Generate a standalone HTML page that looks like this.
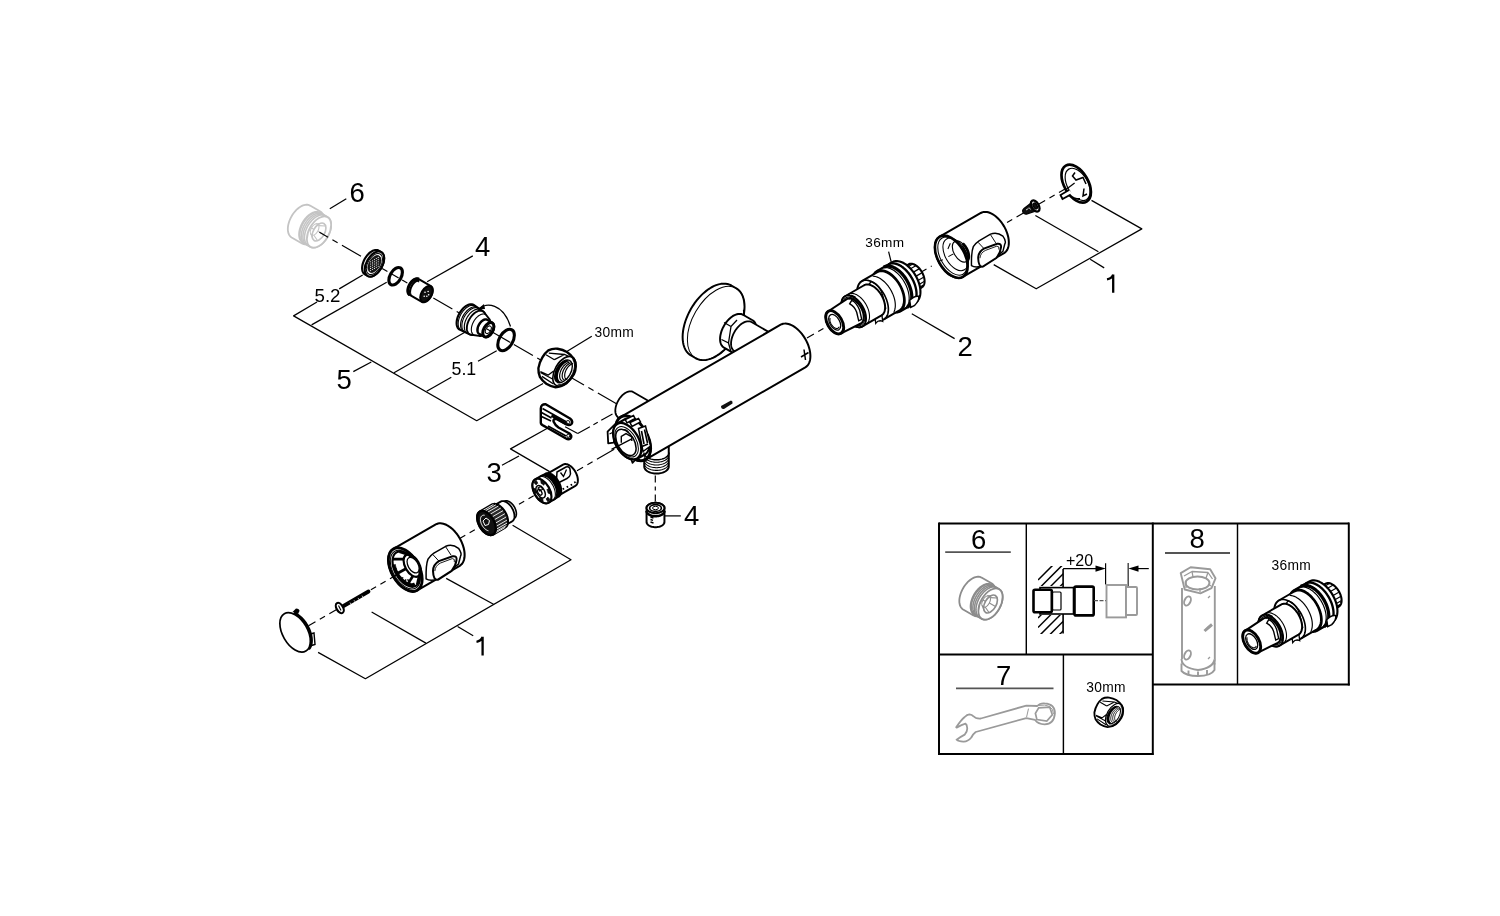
<!DOCTYPE html>
<html><head><meta charset="utf-8"><style>
html,body{margin:0;padding:0;background:#fff;}
body{width:1500px;height:916px;overflow:hidden;}
svg{display:block;will-change:transform;font-family:"Liberation Sans", sans-serif;}
</style></head><body>
<svg width="1500" height="916" viewBox="0 0 1500 916">
<rect width="1500" height="916" fill="#fff"/>
<text x="349.5" y="202.2" font-size="27.5" text-anchor="start" fill="#000" >6</text>
<text x="475" y="255.8" font-size="27.5" text-anchor="start" fill="#000" >4</text>
<text x="314.5" y="301.7" font-size="18.7" text-anchor="start" fill="#000" >5.2</text>
<text x="336.5" y="388.7" font-size="27.5" text-anchor="start" fill="#000" >5</text>
<text x="451.5" y="375.3" font-size="17.8" text-anchor="start" fill="#000" >5.1</text>
<text x="594.5" y="337" font-size="13.8" text-anchor="start" fill="#000" letter-spacing="0.3">30mm</text>
<text x="486.5" y="482.3" font-size="27.5" text-anchor="start" fill="#000" >3</text>
<text x="684" y="524.6" font-size="27.5" text-anchor="start" fill="#000" >4</text>
<path d="M482.6 636.8 V655.5 M476.5 641.8 Q481 641 482.6 637" fill="none" stroke="#000" stroke-width="2.3"/>
<text x="865.3" y="247" font-size="13.6" text-anchor="start" fill="#000" letter-spacing="0.3">36mm</text>
<text x="957.5" y="355.8" font-size="27.5" text-anchor="start" fill="#000" >2</text>
<path d="M1113.2 274.4 V292.7 M1107 279.4 Q1111.6 278.6 1113.2 274.6" fill="none" stroke="#000" stroke-width="2.3"/>
<line x1="329.8" y1="208.7" x2="346.3" y2="198.8" stroke="#000" stroke-width="1.24" />
<line x1="427.1" y1="281.8" x2="472.8" y2="255.9" stroke="#000" stroke-width="1.24" />
<line x1="362.7" y1="275" x2="339.2" y2="288.9" stroke="#000" stroke-width="1.24" />
<path d="M317 302 L293.6 315.9 L476.7 420.7 L543.1 383.5" fill="none" stroke="#000" stroke-width="1.24" stroke-linejoin="round" />
<line x1="386.7" y1="282.3" x2="311.6" y2="324.9" stroke="#000" stroke-width="1.24" />
<line x1="465.3" y1="332" x2="394" y2="372.7" stroke="#000" stroke-width="1.24" />
<line x1="371.3" y1="362" x2="353.3" y2="371.6" stroke="#000" stroke-width="1.24" />
<line x1="496.7" y1="350.7" x2="478" y2="361.3" stroke="#000" stroke-width="1.24" />
<line x1="451.3" y1="377.3" x2="426.7" y2="391.3" stroke="#000" stroke-width="1.24" />
<line x1="567.2" y1="351.2" x2="591.8" y2="336.3" stroke="#000" stroke-width="1.24" />
<line x1="502" y1="465.2" x2="519" y2="456" stroke="#000" stroke-width="1.24" />
<path d="M547.4 428.3 L510.5 448.9 L549.6 471.6" fill="none" stroke="#000" stroke-width="1.24" stroke-linejoin="round" />
<line x1="665" y1="515.9" x2="680.8" y2="515.9" stroke="#000" stroke-width="1.24" />
<line x1="888.6" y1="251.6" x2="892.2" y2="266" stroke="#000" stroke-width="1.24" />
<line x1="911.8" y1="313.8" x2="954.6" y2="338.6" stroke="#000" stroke-width="1.24" />
<path d="M1091.5 200.4 L1141.8 228.9 L1036.2 288.8 L993.7 264.6" fill="none" stroke="#000" stroke-width="1.24" stroke-linejoin="round" />
<line x1="1035.4" y1="215.5" x2="1098.4" y2="251.8" stroke="#000" stroke-width="1.24" />
<line x1="1090.2" y1="259.3" x2="1104.2" y2="267.9" stroke="#000" stroke-width="1.24" />
<path d="M512.6 525.3 L571 559.7 L365.4 678.7 L318.1 652.4" fill="none" stroke="#000" stroke-width="1.24" stroke-linejoin="round" />
<line x1="446.2" y1="578.4" x2="493.5" y2="604.3" stroke="#000" stroke-width="1.24" />
<line x1="371.6" y1="612" x2="425.9" y2="643.1" stroke="#000" stroke-width="1.24" />
<line x1="457.6" y1="626.5" x2="473.2" y2="635.8" stroke="#000" stroke-width="1.24" />
<line x1="939" y1="523.5" x2="1349" y2="523.5" stroke="#000" stroke-width="1.98" />
<line x1="939" y1="522.5" x2="939" y2="755" stroke="#000" stroke-width="1.98" />
<line x1="938" y1="754" x2="1153.5" y2="754" stroke="#000" stroke-width="1.98" />
<line x1="1348.8" y1="522.5" x2="1348.8" y2="685.5" stroke="#000" stroke-width="1.98" />
<line x1="1152.8" y1="684.4" x2="1349.8" y2="684.4" stroke="#000" stroke-width="1.98" />
<line x1="1152.8" y1="522.5" x2="1152.8" y2="755" stroke="#000" stroke-width="1.98" />
<line x1="939" y1="654.5" x2="1152.8" y2="654.5" stroke="#000" stroke-width="1.98" />
<line x1="1026.3" y1="523.5" x2="1026.3" y2="654.5" stroke="#000" stroke-width="1.44" />
<line x1="1237.5" y1="523.5" x2="1237.5" y2="684.4" stroke="#000" stroke-width="1.44" />
<line x1="1063.4" y1="654.5" x2="1063.4" y2="754" stroke="#000" stroke-width="1.44" />
<text x="971" y="549.2" font-size="27.5" text-anchor="start" fill="#000" >6</text>
<line x1="945.2" y1="552.2" x2="1010.8" y2="552.2" stroke="#555" stroke-width="1.8" />
<text x="1189.5" y="548.4" font-size="27.5" text-anchor="start" fill="#000" >8</text>
<line x1="1165" y1="553" x2="1230" y2="553" stroke="#555" stroke-width="1.8" />
<text x="996" y="684.8" font-size="27.5" text-anchor="start" fill="#000" >7</text>
<line x1="956" y1="688.3" x2="1053.5" y2="688.3" stroke="#555" stroke-width="1.8" />
<text x="1271.5" y="570" font-size="13.8" text-anchor="start" fill="#000" letter-spacing="0.3">36mm</text>
<text x="1086.3" y="692" font-size="13.8" text-anchor="start" fill="#000" letter-spacing="0.3">30mm</text>
<text x="1066" y="566.2" font-size="16" text-anchor="start" fill="#000" >+20</text>
<path d="M682.62 337 L682.73 334.06 L683.06 331.02 L683.59 327.9 L684.34 324.72 L685.3 321.51 L686.45 318.29 L687.79 315.09 L689.31 311.93 L690.99 308.83 L692.83 305.83 L694.81 302.93 L696.91 300.17 L699.12 297.57 L701.43 295.13 L703.8 292.89 L706.24 290.87 L708.71 289.06 L711.2 287.5 L713.69 286.19 L716.16 285.14 L718.6 284.35 L720.97 283.85 L723.28 283.62 L725.49 283.67 L727.59 284 L729.57 284.61 L731.41 285.5 L736.17 288.25 L737.86 289.4 L739.37 290.81 L740.71 292.46 L741.86 294.35 L742.82 296.46 L743.57 298.77 L744.11 301.27 L744.43 303.94 L744.54 306.75 L744.43 309.69 L744.11 312.73 L743.57 315.85 L742.82 319.03 L741.86 322.24 L740.71 325.46 L739.37 328.66 L737.86 331.82 L736.17 334.92 L734.33 337.92 L732.36 340.82 L730.25 343.58 L728.04 346.18 L725.74 348.62 L723.36 350.86 L720.93 352.88 L718.45 354.69 L715.96 356.25 L713.47 357.56 L711 358.61 L708.57 359.4 L706.19 359.9 L703.89 360.13 L701.67 360.08 L699.57 359.75 L697.59 359.14 L695.75 358.25 L690.99 355.5 L689.31 354.35 L687.79 352.94 L686.45 351.29 L685.3 349.4 L684.34 347.29 L683.59 344.98 L683.06 342.48 L682.73 339.81 Z" fill="#fff" stroke="#000" stroke-width="1.98" stroke-linejoin="round" />
<ellipse cx="715.96" cy="323.25" rx="40.42" ry="23.33" transform="rotate(-60 715.96 323.25)" fill="none" stroke="#000" stroke-width="0.99" />
<line x1="743.8" y1="310" x2="744.3" y2="316" stroke="#000" stroke-width="1.8" />
<path d="M720.08 338.95 L720.13 337.57 L720.28 336.14 L720.53 334.67 L720.89 333.18 L721.33 331.67 L721.88 330.16 L722.5 328.66 L723.22 327.17 L724.01 325.72 L724.87 324.31 L725.8 322.95 L726.79 321.65 L727.83 320.43 L728.91 319.29 L730.03 318.23 L731.17 317.28 L732.33 316.43 L733.5 315.7 L734.67 315.08 L735.83 314.59 L736.97 314.22 L738.09 313.98 L739.17 313.88 L740.21 313.9 L741.2 314.06 L742.13 314.34 L742.99 314.76 L752.52 320.26 L753.31 320.8 L754.02 321.46 L754.65 322.24 L755.19 323.13 L755.64 324.12 L755.99 325.2 L756.25 326.38 L756.4 327.63 L756.45 328.95 L756.4 330.33 L756.25 331.76 L755.99 333.23 L755.64 334.72 L755.19 336.23 L754.65 337.74 L754.02 339.24 L753.31 340.73 L752.52 342.18 L751.65 343.59 L750.73 344.95 L749.74 346.25 L748.7 347.47 L747.62 348.61 L746.5 349.67 L745.36 350.62 L744.2 351.47 L743.03 352.2 L741.86 352.82 L740.7 353.31 L739.55 353.68 L738.44 353.92 L737.35 354.02 L736.31 354 L735.33 353.84 L734.4 353.56 L733.53 353.14 L724.01 347.64 L723.22 347.1 L722.5 346.44 L721.88 345.66 L721.33 344.77 L720.89 343.78 L720.53 342.7 L720.28 341.52 L720.13 340.27 Z" fill="#fff" stroke="#000" stroke-width="1.98" stroke-linejoin="round" />
<path d="M724 322.5 L731 326.5 L737 320 M721.5 339.5 L728.5 343 L731 352 M728.5 343 L731 326.5" fill="none" stroke="#000" stroke-width="1.3"/>
<path d="M731.05 343.6 L731.09 342.37 L731.23 341.1 L731.46 339.79 L731.77 338.46 L732.17 337.12 L732.65 335.78 L733.21 334.44 L733.84 333.12 L734.55 331.82 L735.32 330.56 L736.15 329.35 L737.02 328.2 L737.95 327.11 L738.91 326.09 L739.91 325.16 L740.92 324.31 L741.96 323.55 L743 322.9 L744.04 322.35 L745.08 321.91 L746.09 321.58 L747.09 321.37 L748.05 321.28 L748.98 321.3 L749.85 321.44 L750.68 321.69 L751.45 322.06 L780.9 339.06 L781.6 339.54 L782.23 340.13 L782.79 340.82 L783.28 341.61 L783.68 342.5 L783.99 343.46 L784.21 344.51 L784.35 345.62 L784.4 346.8 L784.35 348.03 L784.21 349.3 L783.99 350.61 L783.68 351.94 L783.28 353.28 L782.79 354.62 L782.23 355.96 L781.6 357.28 L780.9 358.58 L780.13 359.84 L779.3 361.05 L778.42 362.2 L777.5 363.29 L776.53 364.31 L775.54 365.24 L774.52 366.09 L773.49 366.85 L772.44 367.5 L771.4 368.05 L770.37 368.49 L769.35 368.82 L768.36 369.03 L767.39 369.12 L766.47 369.1 L765.59 368.96 L764.76 368.71 L763.99 368.34 L734.55 351.34 L733.84 350.86 L733.21 350.27 L732.65 349.58 L732.17 348.79 L731.77 347.9 L731.46 346.94 L731.23 345.89 L731.09 344.78 Z" fill="#fff" stroke="#000" stroke-width="1.8" stroke-linejoin="round" />
<path d="M615.31 410.7 L615.35 409.63 L615.47 408.53 L615.66 407.39 L615.93 406.23 L616.28 405.07 L616.7 403.9 L617.19 402.73 L617.74 401.58 L618.35 400.46 L619.02 399.36 L619.74 398.31 L620.5 397.31 L621.31 396.36 L622.15 395.48 L623.01 394.66 L623.9 393.92 L624.79 393.27 L625.7 392.7 L626.61 392.22 L627.5 391.84 L628.39 391.56 L629.25 391.37 L630.09 391.29 L630.9 391.31 L631.66 391.43 L632.38 391.65 L633.05 391.97 L646.9 399.97 L647.52 400.39 L648.07 400.9 L648.56 401.5 L648.98 402.19 L649.32 402.96 L649.59 403.8 L649.79 404.71 L649.91 405.68 L649.95 406.7 L649.91 407.77 L649.79 408.87 L649.59 410.01 L649.32 411.17 L648.98 412.33 L648.56 413.5 L648.07 414.67 L647.52 415.82 L646.9 416.94 L646.24 418.04 L645.52 419.09 L644.75 420.09 L643.95 421.04 L643.11 421.92 L642.25 422.74 L641.36 423.48 L640.46 424.13 L639.56 424.7 L638.65 425.18 L637.75 425.56 L636.87 425.84 L636 426.03 L635.16 426.11 L634.36 426.09 L633.6 425.97 L632.88 425.75 L632.21 425.43 L618.35 417.43 L617.74 417.01 L617.19 416.5 L616.7 415.9 L616.28 415.21 L615.93 414.44 L615.66 413.6 L615.47 412.69 L615.35 411.72 Z" fill="#fff" stroke="#000" stroke-width="1.8" stroke-linejoin="round" />
<path d="M644.25 438.5 L644.3 437.88 L644.44 437.27 L644.67 436.67 L644.99 436.08 L645.4 435.51 L645.89 434.96 L646.47 434.44 L647.12 433.95 L647.84 433.5 L648.63 433.08 L649.48 432.71 L650.38 432.38 L651.32 432.09 L652.31 431.86 L653.33 431.67 L654.37 431.54 L655.43 431.46 L656.5 431.43 L657.57 431.46 L658.63 431.54 L659.67 431.67 L660.69 431.86 L661.68 432.09 L662.62 432.38 L663.52 432.71 L664.37 433.08 L665.16 433.5 L665.88 433.95 L666.53 434.44 L667.11 434.96 L667.6 435.51 L668.01 436.08 L668.33 436.67 L668.56 437.27 L668.7 437.88 L668.75 438.5 L668.75 466.5 L668.7 467.12 L668.56 467.73 L668.33 468.33 L668.01 468.92 L667.6 469.49 L667.11 470.04 L666.53 470.56 L665.88 471.05 L665.16 471.5 L664.37 471.92 L663.52 472.29 L662.62 472.62 L661.68 472.91 L660.69 473.14 L659.67 473.33 L658.63 473.46 L657.57 473.54 L656.5 473.57 L655.43 473.54 L654.37 473.46 L653.33 473.33 L652.31 473.14 L651.32 472.91 L650.38 472.62 L649.48 472.29 L648.63 471.92 L647.84 471.5 L647.12 471.05 L646.47 470.56 L645.89 470.04 L645.4 469.49 L644.99 468.92 L644.67 468.33 L644.44 467.73 L644.3 467.12 L644.25 466.5 Z" fill="#fff" stroke="#000" stroke-width="1.98" stroke-linejoin="round" />
<path d="M615.79 428.25 L615.86 426.54 L616.06 424.91 L616.39 423.39 L616.84 421.98 L617.42 420.7 L618.12 419.55 L618.94 418.54 L619.87 417.68 L620.89 416.98 L780.67 324.73 L781.79 324.19 L783 323.82 L784.28 323.62 L785.63 323.59 L787.03 323.72 L788.48 324.03 L789.96 324.51 L791.46 325.15 L792.98 325.95 L794.5 326.9 L796 328 L797.49 329.24 L798.94 330.6 L800.34 332.08 L801.69 333.67 L802.97 335.35 L804.17 337.11 L805.29 338.94 L806.32 340.83 L807.24 342.75 L808.06 344.7 L808.76 346.66 L809.34 348.62 L809.8 350.56 L810.12 352.46 L810.32 354.31 L810.39 356.1 L810.32 357.81 L810.12 359.44 L809.8 360.96 L809.34 362.37 L808.76 363.65 L808.06 364.8 L807.24 365.81 L806.32 366.67 L805.29 367.37 L645.51 459.62 L644.39 460.16 L643.18 460.53 L641.9 460.73 L640.56 460.76 L639.15 460.63 L637.71 460.32 L636.22 459.84 L634.72 459.2 L633.2 458.4 L631.68 457.45 L630.18 456.35 L628.69 455.11 L627.25 453.75 L625.84 452.27 L624.5 450.68 L623.22 449 L622.01 447.24 L620.89 445.41 L619.87 443.52 L618.94 441.6 L618.12 439.65 L617.42 437.69 L616.84 435.73 L616.39 433.79 L616.06 431.89 L615.86 430.04 Z" fill="#fff" stroke="#000" stroke-width="1.98" stroke-linejoin="round" />
<ellipse cx="633.2" cy="438.3" rx="24.62" ry="14.21" transform="rotate(60 633.2 438.3)" fill="#fff" stroke="#000" stroke-width="1.98" />
<path d="M721 406 L731 400.5 Q733 401 732.5 403.5 L724 409 Q721 409.5 721 406 Z" fill="#111"/>
<path d="M804 349.5 L805.5 360 M801 357 L808.5 352.5" fill="none" stroke="#000" stroke-width="1.5"/>
<ellipse cx="633.2" cy="438.3" rx="24.62" ry="14.21" transform="rotate(60 633.2 438.3)" fill="#fff" stroke="#000" stroke-width="2.97" />
<path d="M612.91 432.95 L612.96 431.54 L613.13 430.21 L613.4 428.96 L613.77 427.8 L614.25 426.75 L614.83 425.81 L615.49 424.98 L616.25 424.27 L617.1 423.7 L624.89 419.2 L625.81 418.76 L626.8 418.45 L627.85 418.29 L628.96 418.26 L630.11 418.37 L631.3 418.63 L632.51 419.02 L633.75 419.54 L634.99 420.2 L636.24 420.98 L637.48 421.88 L638.69 422.9 L639.88 424.02 L641.03 425.23 L642.14 426.54 L643.19 427.92 L644.18 429.36 L645.1 430.87 L645.94 432.41 L646.7 433.99 L647.37 435.59 L647.94 437.2 L648.42 438.81 L648.8 440.4 L649.07 441.96 L649.23 443.48 L649.28 444.95 L649.23 446.36 L649.07 447.69 L648.8 448.94 L648.42 450.1 L647.94 451.15 L647.37 452.09 L646.7 452.92 L645.94 453.63 L645.1 454.2 L637.3 458.7 L636.39 459.14 L635.4 459.45 L634.34 459.61 L633.24 459.64 L632.09 459.53 L630.9 459.27 L629.68 458.88 L628.45 458.36 L627.2 457.7 L625.95 456.92 L624.72 456.02 L623.5 455 L622.31 453.88 L621.16 452.67 L620.06 451.36 L619 449.98 L618.01 448.54 L617.1 447.03 L616.25 445.49 L615.49 443.91 L614.83 442.31 L614.25 440.7 L613.77 439.09 L613.4 437.5 L613.13 435.94 L612.96 434.42 Z" fill="#fff" stroke="#000" stroke-width="2.16" stroke-linejoin="round" />
<path d="M625.3 419.5 L633.5 415.5 L635 418.5 L627 423 Z M630 422.5 L638.5 418.5 L640.5 422 L632 426.5 Z" fill="#fff" stroke="#000" stroke-width="1.5"/>
<path d="M638.5 428.5 L645.5 426 L650.5 446 L643 451.5 Z" fill="#fff" stroke="#000" stroke-width="1.5"/>
<path d="M641.5 431 L644 444 M644.5 429.5 L647.5 443 M642 446.5 L648 444" fill="none" stroke="#000" stroke-width="1.6"/>
<path d="M607.6 431.6 L615.4 423.8 L618.7 426.4 L613.5 442.7 L608.2 443.4 Z" fill="#fff" stroke="#000" stroke-width="1.8" stroke-linejoin="round" />
<line x1="609.5" y1="434" x2="613.5" y2="432" stroke="#000" stroke-width="1.08" />
<path d="M630.5 457.2 L633.1 455.8 L635.5 459.8 L632.5 463 Z" fill="#fff" stroke="#000" stroke-width="1.62" stroke-linejoin="round" />
<ellipse cx="627.2" cy="441.2" rx="19.96" ry="11.53" transform="rotate(60 627.2 441.2)" fill="#fff" stroke="#000" stroke-width="2.34" />
<ellipse cx="626.6" cy="441.8" rx="16.66" ry="9.62" transform="rotate(60 626.6 441.8)" fill="none" stroke="#000" stroke-width="0.99" />
<ellipse cx="625.9" cy="442.4" rx="14.45" ry="8.34" transform="rotate(60 625.9 442.4)" fill="#fff" stroke="#000" stroke-width="1.53" />
<path d="M621.3 442.7 L621.3 436.5 L626 433.6 L631.8 437 L631.8 441" fill="none" stroke="#000" stroke-width="1.4"/>
<path d="M622.5 430 Q626 428.5 628.5 432" fill="none" stroke="#000" stroke-width="1.2"/>
<line x1="611.5" y1="449.3" x2="631.8" y2="438.8" stroke="#000" stroke-width="1.35" />
<path d="M669.11 452.5 L669.07 453.13 L668.92 453.76 L668.69 454.39 L668.35 454.99 L667.93 455.58 L667.42 456.14 L666.83 456.68 L666.16 457.18 L665.42 457.65 L664.61 458.08 L663.74 458.47 L662.81 458.81 L661.83 459.1 L660.81 459.34 L659.76 459.54 L658.69 459.67 L657.6 459.76 L656.5 459.78 L655.4 459.76 L654.31 459.67 L653.24 459.54 L652.19 459.34 L651.17 459.1 L650.19 458.81 L649.26 458.47 L648.39 458.08 L647.58 457.65 L646.84 457.18 L646.17 456.68 L645.58 456.14 L645.07 455.58 L644.65 454.99 L644.31 454.39 L644.08 453.76 L643.93 453.13 L643.89 452.5" fill="none" stroke="#000" stroke-width="1.44" stroke-linejoin="round" />
<path d="M668.75 455.2 L668.7 455.82 L668.56 456.43 L668.33 457.03 L668.01 457.62 L667.6 458.19 L667.11 458.74 L666.53 459.26 L665.88 459.75 L665.16 460.2 L664.37 460.62 L663.52 460.99 L662.62 461.32 L661.68 461.61 L660.69 461.84 L659.67 462.03 L658.63 462.16 L657.57 462.24 L656.5 462.27 L655.43 462.24 L654.37 462.16 L653.33 462.03 L652.31 461.84 L651.32 461.61 L650.38 461.32 L649.48 460.99 L648.63 460.62 L647.84 460.2 L647.12 459.75 L646.47 459.26 L645.89 458.74 L645.4 458.19 L644.99 457.62 L644.67 457.03 L644.44 456.43 L644.3 455.82 L644.25 455.2" fill="none" stroke="#000" stroke-width="1.08" stroke-linejoin="round" />
<path d="M668.75 457.9 L668.7 458.52 L668.56 459.13 L668.33 459.73 L668.01 460.32 L667.6 460.89 L667.11 461.44 L666.53 461.96 L665.88 462.45 L665.16 462.9 L664.37 463.32 L663.52 463.69 L662.62 464.02 L661.68 464.31 L660.69 464.54 L659.67 464.73 L658.63 464.86 L657.57 464.94 L656.5 464.97 L655.43 464.94 L654.37 464.86 L653.33 464.73 L652.31 464.54 L651.32 464.31 L650.38 464.02 L649.48 463.69 L648.63 463.32 L647.84 462.9 L647.12 462.45 L646.47 461.96 L645.89 461.44 L645.4 460.89 L644.99 460.32 L644.67 459.73 L644.44 459.13 L644.3 458.52 L644.25 457.9" fill="none" stroke="#000" stroke-width="1.08" stroke-linejoin="round" />
<path d="M668.75 460.6 L668.7 461.22 L668.56 461.83 L668.33 462.43 L668.01 463.02 L667.6 463.59 L667.11 464.14 L666.53 464.66 L665.88 465.15 L665.16 465.6 L664.37 466.02 L663.52 466.39 L662.62 466.72 L661.68 467.01 L660.69 467.24 L659.67 467.43 L658.63 467.56 L657.57 467.64 L656.5 467.67 L655.43 467.64 L654.37 467.56 L653.33 467.43 L652.31 467.24 L651.32 467.01 L650.38 466.72 L649.48 466.39 L648.63 466.02 L647.84 465.6 L647.12 465.15 L646.47 464.66 L645.89 464.14 L645.4 463.59 L644.99 463.02 L644.67 462.43 L644.44 461.83 L644.3 461.22 L644.25 460.6" fill="none" stroke="#000" stroke-width="1.08" stroke-linejoin="round" />
<path d="M668.75 463.3 L668.7 463.92 L668.56 464.53 L668.33 465.13 L668.01 465.72 L667.6 466.29 L667.11 466.84 L666.53 467.36 L665.88 467.85 L665.16 468.3 L664.37 468.72 L663.52 469.09 L662.62 469.42 L661.68 469.71 L660.69 469.94 L659.67 470.13 L658.63 470.26 L657.57 470.34 L656.5 470.37 L655.43 470.34 L654.37 470.26 L653.33 470.13 L652.31 469.94 L651.32 469.71 L650.38 469.42 L649.48 469.09 L648.63 468.72 L647.84 468.3 L647.12 467.85 L646.47 467.36 L645.89 466.84 L645.4 466.29 L644.99 465.72 L644.67 465.13 L644.44 464.53 L644.3 463.92 L644.25 463.3" fill="none" stroke="#000" stroke-width="1.08" stroke-linejoin="round" />
<line x1="382.22" y1="268.5" x2="390.88" y2="273.5" stroke="#000" stroke-width="1.17" stroke-dasharray="6 5" stroke-dashoffset="0"/>
<line x1="402.14" y1="280" x2="409.07" y2="284" stroke="#000" stroke-width="1.17" stroke-dasharray="6 5" stroke-dashoffset="0"/>
<line x1="433.32" y1="298" x2="464.49" y2="316" stroke="#000" stroke-width="1.17" stroke-dasharray="22 5 6 5" stroke-dashoffset="0"/>
<line x1="513.86" y1="344.5" x2="545.9" y2="363" stroke="#000" stroke-width="1.17" stroke-dasharray="22 5 6 5" stroke-dashoffset="0"/>
<line x1="564.95" y1="374" x2="616.91" y2="404" stroke="#000" stroke-width="1.17" stroke-dasharray="22 5 6 5" stroke-dashoffset="0"/>
<use href="#adapt" transform="translate(319 232)" style="color:#c4c4c4"/>
<line x1="319.43" y1="232.25" x2="364.9" y2="258.5" stroke="#000" stroke-width="1.17" stroke-dasharray="10 5 6 5 22 5 6 5" stroke-dashoffset="0"/>
<path d="M362.13 268.1 L362.16 267.1 L362.28 266.07 L362.46 265.01 L362.71 263.93 L363.04 262.84 L363.43 261.75 L363.88 260.66 L364.4 259.59 L364.97 258.54 L365.59 257.52 L366.26 256.54 L366.98 255.6 L367.73 254.72 L368.51 253.89 L369.32 253.13 L370.14 252.44 L370.98 251.83 L371.83 251.3 L372.67 250.85 L373.51 250.5 L374.34 250.23 L375.14 250.06 L375.93 249.98 L376.68 250 L377.39 250.11 L378.06 250.32 L378.69 250.62 L381.28 252.12 L381.86 252.51 L382.37 252.99 L382.83 253.55 L383.22 254.19 L383.54 254.91 L383.79 255.69 L383.98 256.54 L384.09 257.45 L384.13 258.4 L384.09 259.4 L383.98 260.43 L383.79 261.49 L383.54 262.57 L383.22 263.66 L382.83 264.75 L382.37 265.84 L381.86 266.91 L381.28 267.96 L380.66 268.98 L379.99 269.96 L379.28 270.9 L378.52 271.78 L377.74 272.61 L376.94 273.37 L376.11 274.06 L375.27 274.67 L374.43 275.2 L373.58 275.65 L372.74 276 L371.92 276.27 L371.11 276.44 L370.33 276.52 L369.58 276.5 L368.86 276.39 L368.19 276.18 L367.57 275.88 L364.97 274.38 L364.4 273.99 L363.88 273.51 L363.43 272.95 L363.04 272.31 L362.71 271.59 L362.46 270.81 L362.28 269.96 L362.16 269.05 Z" fill="#fff" stroke="#000" stroke-width="2.16" stroke-linejoin="round" />
<ellipse cx="374.43" cy="264" rx="13.72" ry="7.92" transform="rotate(-60 374.43 264)" fill="#fff" stroke="#000" stroke-width="2.16" />
<ellipse cx="374.43" cy="264" rx="11.51" ry="6.65" transform="rotate(-60 374.43 264)" fill="none" stroke="#000" stroke-width="0.99" />
<ellipse cx="374.43" cy="264" rx="9.31" ry="5.37" transform="rotate(-60 374.43 264)" fill="#1a1a1a" stroke="#000" stroke-width="0.72" />
<circle cx="370.62" cy="270.6" r="0.55" fill="#fff"/>
<circle cx="370.62" cy="268.4" r="0.55" fill="#fff"/>
<circle cx="370.62" cy="266.2" r="0.55" fill="#fff"/>
<circle cx="370.62" cy="264" r="0.55" fill="#fff"/>
<circle cx="370.62" cy="261.8" r="0.55" fill="#fff"/>
<circle cx="372.52" cy="269.5" r="0.55" fill="#fff"/>
<circle cx="372.52" cy="267.3" r="0.55" fill="#fff"/>
<circle cx="372.52" cy="265.1" r="0.55" fill="#fff"/>
<circle cx="372.52" cy="262.9" r="0.55" fill="#fff"/>
<circle cx="372.52" cy="260.7" r="0.55" fill="#fff"/>
<circle cx="374.43" cy="268.4" r="0.55" fill="#fff"/>
<circle cx="374.43" cy="266.2" r="0.55" fill="#fff"/>
<circle cx="374.43" cy="264" r="0.55" fill="#fff"/>
<circle cx="374.43" cy="261.8" r="0.55" fill="#fff"/>
<circle cx="374.43" cy="259.6" r="0.55" fill="#fff"/>
<circle cx="376.33" cy="267.3" r="0.55" fill="#fff"/>
<circle cx="376.33" cy="265.1" r="0.55" fill="#fff"/>
<circle cx="376.33" cy="262.9" r="0.55" fill="#fff"/>
<circle cx="376.33" cy="260.7" r="0.55" fill="#fff"/>
<circle cx="376.33" cy="258.5" r="0.55" fill="#fff"/>
<circle cx="378.24" cy="266.2" r="0.55" fill="#fff"/>
<circle cx="378.24" cy="264" r="0.55" fill="#fff"/>
<circle cx="378.24" cy="261.8" r="0.55" fill="#fff"/>
<circle cx="378.24" cy="259.6" r="0.55" fill="#fff"/>
<circle cx="378.24" cy="257.4" r="0.55" fill="#fff"/>
<ellipse cx="395.64" cy="276.25" rx="9.55" ry="5.52" transform="rotate(-60 395.64 276.25)" fill="none" stroke="#000" stroke-width="3.15" />
<line x1="391.75" y1="274" x2="398.67" y2="278" stroke="#000" stroke-width="1.17" />
<path d="M407.85 290.7 L407.88 290.04 L407.95 289.36 L408.07 288.66 L408.24 287.95 L408.45 287.23 L408.71 286.5 L409.01 285.79 L409.35 285.08 L409.73 284.38 L410.14 283.71 L410.59 283.06 L411.06 282.44 L411.55 281.86 L412.07 281.31 L412.6 280.81 L413.15 280.35 L413.7 279.95 L414.26 279.6 L414.82 279.31 L415.38 279.07 L415.92 278.89 L416.45 278.78 L416.97 278.73 L417.47 278.74 L417.94 278.82 L418.38 278.95 L418.79 279.15 L430.92 286.15 L431.3 286.41 L431.64 286.72 L431.94 287.1 L432.2 287.52 L432.41 287.99 L432.58 288.51 L432.7 289.07 L432.77 289.67 L432.8 290.3 L432.77 290.96 L432.7 291.64 L432.58 292.34 L432.41 293.05 L432.2 293.77 L431.94 294.5 L431.64 295.21 L431.3 295.92 L430.92 296.62 L430.51 297.29 L430.06 297.94 L429.59 298.56 L429.1 299.14 L428.58 299.69 L428.05 300.19 L427.5 300.65 L426.95 301.05 L426.39 301.4 L425.83 301.69 L425.27 301.93 L424.73 302.11 L424.2 302.22 L423.68 302.27 L423.18 302.26 L422.71 302.18 L422.27 302.05 L421.86 301.85 L409.73 294.85 L409.35 294.59 L409.01 294.28 L408.71 293.9 L408.45 293.48 L408.24 293.01 L408.07 292.49 L407.95 291.93 L407.88 291.33 Z" fill="#fff" stroke="#000" stroke-width="1.98" stroke-linejoin="round" />
<path d="M418.79 279.15 L418.42 278.97 L418.03 278.84 L417.61 278.76 L417.17 278.73 L416.72 278.75 L416.24 278.82 L415.76 278.94 L415.27 279.11 L414.77 279.33 L414.26 279.6 L413.76 279.91 L413.26 280.27 L412.77 280.67 L412.28 281.11 L411.81 281.58 L411.35 282.09 L410.91 282.62 L410.5 283.19 L410.1 283.78 L409.73 284.38 L409.39 285.01 L409.08 285.64 L408.8 286.29 L408.55 286.94 L408.34 287.59 L408.17 288.23 L408.03 288.87 L407.93 289.5 L407.87 290.11 L407.85 290.7 L407.87 291.27 L407.93 291.81 L408.03 292.33 L408.17 292.81 L408.34 293.25 L408.55 293.66 L408.8 294.02 L409.08 294.34 L409.39 294.62 L409.73 294.85" fill="none" stroke="#000" stroke-width="3.06" stroke-linejoin="round" />
<path d="M419.34 279.98 L418.97 279.99 L418.6 280.03 L418.22 280.11 L417.83 280.22 L417.43 280.36 L417.03 280.53 L416.63 280.74 L416.23 280.97 L415.82 281.23 L415.43 281.52 L415.03 281.84 L414.64 282.18 L414.26 282.54 L413.88 282.93 L413.52 283.34 L413.17 283.76 L412.83 284.21 L412.5 284.67 L412.19 285.15 L411.9 285.63 L411.62 286.13 L411.36 286.64 L411.13 287.15 L410.91 287.67 L410.72 288.19 L410.55 288.71 L410.4 289.22 L410.27 289.74 L410.17 290.25 L410.1 290.75 L410.05 291.24 L410.02 291.72 L410.02 292.18 L410.05 292.63 L410.1 293.06 L410.17 293.48 L410.27 293.87 L410.4 294.24 L410.55 294.58 L410.72 294.91" fill="none" stroke="#000" stroke-width="2.16" stroke-linejoin="round" />
<ellipse cx="426.39" cy="294" rx="8.82" ry="5.09" transform="rotate(-60 426.39 294)" fill="#111" stroke="#000" stroke-width="1.98" />
<circle cx="425" cy="292.3" r="0.8" fill="#fff"/>
<circle cx="428.12" cy="291.5" r="0.8" fill="#fff"/>
<circle cx="426.82" cy="296.25" r="0.8" fill="#fff"/>
<circle cx="424.22" cy="296.25" r="0.8" fill="#fff"/>
<circle cx="428.64" cy="294.7" r="0.8" fill="#fff"/>
<line x1="415.26" y1="280" x2="419.26" y2="282" stroke="#000" stroke-width="1.08" />
<path d="M456.61 323.05 L456.65 322.02 L456.76 320.95 L456.95 319.85 L457.22 318.73 L457.55 317.6 L457.96 316.47 L458.43 315.35 L458.96 314.24 L459.55 313.15 L460.2 312.09 L460.9 311.07 L461.63 310.1 L462.41 309.19 L463.22 308.33 L464.06 307.55 L464.91 306.83 L465.78 306.2 L466.66 305.65 L467.53 305.19 L468.4 304.82 L469.26 304.54 L470.09 304.37 L470.9 304.29 L471.68 304.3 L472.42 304.42 L473.11 304.64 L473.76 304.95 L474.35 305.35 L483.35 311.67 L483.85 312.13 L484.28 312.67 L484.66 313.29 L484.97 313.98 L485.22 314.74 L485.39 315.56 L485.5 316.43 L485.54 317.35 L485.5 318.31 L485.39 319.31 L485.22 320.33 L484.97 321.37 L484.66 322.42 L484.28 323.47 L483.85 324.52 L483.35 325.56 L482.8 326.57 L482.2 327.55 L481.55 328.5 L480.86 329.4 L480.14 330.26 L479.38 331.05 L478.6 331.78 L477.81 332.45 L477 333.04 L476.18 333.55 L475.37 333.98 L474.56 334.32 L473.76 334.58 L472.98 334.75 L472.23 334.82 L471.51 334.8 L470.82 334.69 L470.17 334.49 L460.2 329.86 L459.55 329.55 L458.96 329.15 L458.43 328.65 L457.96 328.07 L457.55 327.41 L457.22 326.67 L456.95 325.85 L456.76 324.98 L456.65 324.04 Z" fill="#fff" stroke="#000" stroke-width="2.16" stroke-linejoin="round" />
<path d="M475.44 306.25 L474.88 305.9 L474.28 305.63 L473.64 305.44 L472.96 305.34 L472.24 305.32 L471.5 305.39 L470.73 305.54 L469.95 305.78 L469.16 306.09 L468.35 306.49 L467.55 306.96 L466.75 307.51 L465.95 308.13 L465.17 308.81 L464.41 309.56 L463.68 310.36 L462.97 311.21 L462.3 312.11 L461.66 313.05 L461.07 314.02 L460.52 315.02 L460.03 316.04 L459.59 317.07 L459.2 318.11 L458.87 319.15 L458.61 320.18 L458.4 321.2 L458.27 322.2 L458.19 323.16 L458.19 324.1 L458.24 324.99 L458.37 325.84 L458.56 326.64 L458.81 327.37 L459.12 328.05 L459.49 328.66 L459.92 329.2 L460.4 329.66 L460.94 330.05 L461.52 330.36" fill="none" stroke="#000" stroke-width="1.08" stroke-linejoin="round" />
<path d="M477.57 307.74 L477.03 307.39 L476.43 307.13 L475.8 306.94 L475.13 306.84 L474.43 306.82 L473.7 306.89 L472.94 307.04 L472.17 307.27 L471.39 307.58 L470.6 307.97 L469.81 308.44 L469.02 308.98 L468.24 309.59 L467.47 310.26 L466.72 310.99 L466 311.78 L465.3 312.62 L464.64 313.51 L464.02 314.43 L463.43 315.39 L462.9 316.37 L462.41 317.37 L461.97 318.39 L461.59 319.41 L461.27 320.43 L461.01 321.45 L460.81 322.45 L460.67 323.43 L460.6 324.38 L460.59 325.3 L460.65 326.18 L460.77 327.02 L460.96 327.8 L461.21 328.53 L461.51 329.19 L461.88 329.79 L462.3 330.32 L462.78 330.78 L463.3 331.16 L463.88 331.46" fill="none" stroke="#000" stroke-width="1.17" stroke-linejoin="round" />
<path d="M478.72 308.54 L478.18 308.2 L477.59 307.93 L476.96 307.75 L476.3 307.65 L475.6 307.63 L474.88 307.7 L474.13 307.85 L473.37 308.08 L472.59 308.39 L471.81 308.77 L471.02 309.24 L470.24 309.77 L469.47 310.37 L468.71 311.04 L467.97 311.77 L467.25 312.55 L466.56 313.38 L465.9 314.26 L465.28 315.17 L464.7 316.12 L464.17 317.1 L463.69 318.09 L463.26 319.1 L462.88 320.11 L462.56 321.12 L462.3 322.13 L462.11 323.12 L461.97 324.09 L461.9 325.04 L461.89 325.95 L461.95 326.82 L462.07 327.65 L462.25 328.43 L462.5 329.15 L462.8 329.8 L463.17 330.4 L463.58 330.93 L464.06 331.38 L464.58 331.76 L465.15 332.06" fill="none" stroke="#000" stroke-width="1.08" stroke-linejoin="round" />
<path d="M480.86 310.03 L480.32 309.69 L479.74 309.43 L479.13 309.25 L478.47 309.15 L477.79 309.14 L477.08 309.2 L476.34 309.35 L475.59 309.57 L474.83 309.88 L474.06 310.26 L473.28 310.71 L472.51 311.24 L471.75 311.83 L471 312.49 L470.28 313.2 L469.57 313.97 L468.89 314.79 L468.25 315.65 L467.64 316.55 L467.07 317.49 L466.54 318.45 L466.07 319.42 L465.64 320.41 L465.27 321.41 L464.96 322.41 L464.71 323.4 L464.51 324.37 L464.38 325.33 L464.31 326.26 L464.3 327.15 L464.36 328.01 L464.48 328.82 L464.66 329.59 L464.9 330.3 L465.2 330.95 L465.55 331.53 L465.97 332.05 L466.43 332.49 L466.94 332.86 L467.5 333.16" fill="none" stroke="#000" stroke-width="1.17" stroke-linejoin="round" />
<path d="M466.83 328.15 L466.87 327.19 L466.97 326.19 L467.15 325.17 L467.39 324.13 L467.71 323.08 L468.08 322.03 L468.52 320.98 L469.02 319.94 L469.57 318.93 L470.17 317.95 L470.82 317 L471.51 316.1 L472.23 315.24 L472.98 314.45 L473.76 313.72 L474.56 313.05 L475.37 312.46 L476.18 311.95 L477 311.52 L477.81 311.18 L478.6 310.92 L479.38 310.75 L480.14 310.68 L480.86 310.7 L481.55 310.81 L482.2 311.01 L482.8 311.29 L483.35 311.67 L483.85 312.13 L489.34 319.01 L489.63 319.48 L489.87 320.01 L490.05 320.59 L490.19 321.22 L490.27 321.89 L490.3 322.6 L490.27 323.34 L490.19 324.1 L490.05 324.89 L489.87 325.69 L489.63 326.5 L489.34 327.31 L489 328.11 L488.62 328.91 L488.19 329.68 L487.73 330.44 L487.23 331.17 L486.71 331.86 L486.15 332.52 L485.57 333.13 L484.97 333.69 L484.36 334.2 L483.74 334.66 L483.11 335.05 L482.49 335.38 L481.86 335.64 L481.25 335.84 L480.65 335.97 L480.07 336.03 L479.52 336.01 L478.99 335.93 L471.51 334.8 L470.82 334.69 L470.17 334.49 L469.57 334.21 L469.02 333.83 L468.52 333.37 L468.08 332.83 L467.71 332.21 L467.39 331.52 L467.15 330.76 L466.97 329.94 L466.87 329.07 Z" fill="#fff" stroke="#000" stroke-width="1.89" stroke-linejoin="round" />
<path d="M485.53 314.57 L485.05 314.33 L484.53 314.16 L483.99 314.06 L483.42 314.02 L482.83 314.04 L482.22 314.14 L481.59 314.29 L480.95 314.52 L480.3 314.8 L479.65 315.15 L479 315.56 L478.35 316.02 L477.71 316.54 L477.08 317.1 L476.47 317.72 L475.87 318.38 L475.3 319.07 L474.76 319.8 L474.25 320.57 L473.77 321.36 L473.33 322.17 L472.92 322.99 L472.56 323.83 L472.24 324.67 L471.97 325.51 L471.74 326.35 L471.56 327.18 L471.44 327.99 L471.36 328.78 L471.33 329.55 L471.36 330.29 L471.44 330.99 L471.56 331.66 L471.74 332.28 L471.97 332.86 L472.24 333.39 L472.56 333.86 L472.92 334.28 L473.33 334.63 L473.77 334.93" fill="none" stroke="#000" stroke-width="1.08" stroke-linejoin="round" />
<path d="M477.4 330.05 L477.42 329.46 L477.48 328.85 L477.59 328.23 L477.74 327.59 L477.93 326.95 L478.16 326.31 L478.43 325.67 L478.73 325.04 L479.07 324.42 L479.44 323.82 L479.83 323.24 L480.25 322.68 L480.7 322.16 L481.16 321.68 L481.63 321.23 L482.12 320.82 L482.61 320.46 L483.11 320.15 L483.61 319.89 L484.1 319.68 L484.59 319.52 L485.07 319.42 L485.53 319.37 L485.97 319.38 L486.39 319.45 L486.79 319.57 L487.15 319.75 L492.35 322.75 L492.69 322.98 L492.99 323.26 L493.26 323.59 L493.49 323.97 L493.68 324.39 L493.83 324.85 L493.94 325.35 L494 325.89 L494.02 326.45 L494 327.04 L493.94 327.65 L493.83 328.27 L493.68 328.91 L493.49 329.55 L493.26 330.19 L492.99 330.83 L492.69 331.46 L492.35 332.08 L491.98 332.68 L491.59 333.26 L491.17 333.82 L490.72 334.34 L490.26 334.82 L489.79 335.27 L489.3 335.68 L488.81 336.04 L488.31 336.35 L487.81 336.61 L487.32 336.82 L486.83 336.98 L486.35 337.08 L485.89 337.13 L485.45 337.12 L485.03 337.05 L484.63 336.93 L484.27 336.75 L479.07 333.75 L478.73 333.52 L478.43 333.24 L478.16 332.91 L477.93 332.53 L477.74 332.11 L477.59 331.65 L477.48 331.15 L477.42 330.61 Z" fill="#fff" stroke="#000" stroke-width="2.34" stroke-linejoin="round" />
<path d="M487.59 320 L487.26 319.84 L486.9 319.72 L486.53 319.65 L486.14 319.62 L485.73 319.64 L485.31 319.7 L484.88 319.81 L484.44 319.97 L483.99 320.16 L483.54 320.4 L483.1 320.68 L482.65 321 L482.21 321.35 L481.78 321.74 L481.36 322.17 L480.95 322.62 L480.56 323.1 L480.19 323.6 L479.83 324.12 L479.5 324.67 L479.2 325.22 L478.92 325.79 L478.67 326.37 L478.45 326.94 L478.26 327.52 L478.11 328.1 L477.99 328.67 L477.9 329.23 L477.85 329.77 L477.83 330.3 L477.85 330.81 L477.9 331.29 L477.99 331.75 L478.11 332.18 L478.26 332.57 L478.45 332.94 L478.67 333.26 L478.92 333.55 L479.2 333.8 L479.5 334" fill="none" stroke="#000" stroke-width="1.08" stroke-linejoin="round" />
<ellipse cx="488.31" cy="329.75" rx="7.84" ry="4.53" transform="rotate(-60 488.31 329.75)" fill="#fff" stroke="#000" stroke-width="3.06" />
<ellipse cx="488.31" cy="329.75" rx="4.16" ry="2.4" transform="rotate(-60 488.31 329.75)" fill="#fff" stroke="#000" stroke-width="1.08" />
<line x1="486.58" y1="328.75" x2="500.87" y2="337" stroke="#000" stroke-width="1.17" />
<path d="M479.5 308.5 C486 302.5 503 303 510.5 326.5" fill="none" stroke="#000" stroke-width="1.3"/>
<path d="M477.5 309.5 L484 304 L485 309 Z" fill="#000"/>
<ellipse cx="506.06" cy="340" rx="11.76" ry="6.79" transform="rotate(-60 506.06 340)" fill="none" stroke="#000" stroke-width="3.06" />
<line x1="500.87" y1="337" x2="510.39" y2="342.5" stroke="#000" stroke-width="1.17" />
<defs>
<g id="cart36">
<path d="M56.46 -43.4 L56.5 -44.32 L56.61 -45.19 L56.78 -46.01 L57.03 -46.77 L57.34 -47.46 L57.72 -48.08 L58.16 -48.62 L58.65 -49.08 L59.2 -49.46 L73.93 -57.96 L74.53 -58.24 L75.18 -58.44 L75.86 -58.55 L76.59 -58.57 L77.34 -58.5 L78.12 -58.33 L78.92 -58.07 L79.73 -57.73 L80.54 -57.3 L81.36 -56.79 L82.16 -56.2 L82.96 -55.53 L83.74 -54.8 L84.49 -54.01 L85.22 -53.15 L85.91 -52.25 L86.55 -51.3 L87.15 -50.32 L87.71 -49.31 L88.2 -48.27 L88.64 -47.22 L89.02 -46.17 L89.33 -45.12 L89.57 -44.08 L89.75 -43.06 L89.86 -42.06 L89.89 -41.1 L89.86 -40.18 L89.75 -39.31 L89.57 -38.49 L89.33 -37.73 L89.02 -37.04 L88.64 -36.42 L88.2 -35.88 L87.71 -35.42 L87.15 -35.04 L72.43 -26.54 L71.83 -26.26 L71.18 -26.06 L70.49 -25.95 L69.77 -25.93 L69.02 -26 L68.24 -26.17 L67.44 -26.43 L66.63 -26.77 L65.82 -27.2 L65 -27.71 L64.19 -28.3 L63.4 -28.97 L62.62 -29.7 L61.87 -30.49 L61.14 -31.35 L60.45 -32.25 L59.81 -33.2 L59.2 -34.18 L58.65 -35.19 L58.16 -36.23 L57.72 -37.28 L57.34 -38.33 L57.03 -39.38 L56.78 -40.42 L56.61 -41.44 L56.5 -42.44 Z" fill="#fff" stroke="#000" stroke-width="2.07" stroke-linejoin="round" />
<line x1="74.39" y1="-27.69" x2="86.95" y2="-34.94" stroke="#000" stroke-width="1.17" />
<line x1="76.24" y1="-29.98" x2="88.79" y2="-37.23" stroke="#000" stroke-width="1.17" />
<line x1="76.9" y1="-33.49" x2="89.46" y2="-40.74" stroke="#000" stroke-width="1.17" />
<line x1="76.3" y1="-37.75" x2="88.86" y2="-45" stroke="#000" stroke-width="1.17" />
<line x1="74.52" y1="-42.18" x2="87.08" y2="-49.43" stroke="#000" stroke-width="1.17" />
<line x1="71.79" y1="-46.18" x2="84.35" y2="-53.43" stroke="#000" stroke-width="1.17" />
<line x1="68.49" y1="-49.2" x2="81.05" y2="-56.45" stroke="#000" stroke-width="1.17" />
<line x1="65.06" y1="-50.85" x2="77.62" y2="-58.1" stroke="#000" stroke-width="1.17" />
<line x1="61.97" y1="-50.89" x2="74.53" y2="-58.14" stroke="#000" stroke-width="1.17" />
<path d="M37.24 -40.5 L37.3 -42.12 L37.49 -43.65 L37.8 -45.09 L38.23 -46.43 L38.78 -47.64 L39.44 -48.73 L40.21 -49.68 L41.09 -50.49 L42.06 -51.15 L57.65 -60.15 L58.71 -60.66 L59.84 -61.01 L61.05 -61.2 L62.33 -61.23 L63.65 -61.1 L65.02 -60.81 L66.42 -60.36 L67.85 -59.76 L69.28 -59 L70.72 -58.1 L72.14 -57.06 L73.54 -55.89 L74.91 -54.6 L76.24 -53.2 L77.51 -51.7 L78.72 -50.11 L79.86 -48.45 L80.92 -46.72 L81.89 -44.94 L82.76 -43.12 L83.53 -41.27 L84.19 -39.42 L84.74 -37.57 L85.18 -35.74 L85.49 -33.94 L85.67 -32.19 L85.74 -30.5 L85.67 -28.88 L85.49 -27.35 L85.18 -25.91 L84.74 -24.57 L84.19 -23.36 L83.53 -22.27 L82.76 -21.32 L81.89 -20.51 L80.92 -19.85 L65.33 -10.85 L64.27 -10.34 L63.13 -9.99 L61.92 -9.8 L60.65 -9.77 L59.32 -9.9 L57.95 -10.19 L56.55 -10.64 L55.13 -11.24 L53.69 -12 L52.26 -12.9 L50.84 -13.94 L49.43 -15.11 L48.07 -16.4 L46.74 -17.8 L45.47 -19.3 L44.26 -20.89 L43.12 -22.55 L42.06 -24.28 L41.09 -26.06 L40.21 -27.88 L39.44 -29.73 L38.78 -31.58 L38.23 -33.43 L37.8 -35.26 L37.49 -37.06 L37.3 -38.81 Z" fill="#fff" stroke="#000" stroke-width="2.16" stroke-linejoin="round" />
<path d="M72.26 -14.85 L73.13 -15.44 L73.93 -16.15 L74.65 -16.97 L75.28 -17.91 L75.82 -18.95 L76.27 -20.09 L76.62 -21.33 L76.87 -22.64 L77.03 -24.04 L77.08 -25.5 L77.03 -27.02 L76.87 -28.59 L76.62 -30.2 L76.27 -31.84 L75.82 -33.49 L75.28 -35.16 L74.65 -36.83 L73.93 -38.48 L73.13 -40.12 L72.26 -41.72 L71.31 -43.28 L70.29 -44.79 L69.22 -46.24 L68.09 -47.62 L66.92 -48.92 L65.71 -50.13 L64.46 -51.26 L63.2 -52.28 L61.91 -53.2 L60.62 -54 L59.33 -54.69 L58.05 -55.25 L56.78 -55.69 L55.54 -56.01 L54.32 -56.19 L53.15 -56.24 L52.02 -56.16 L50.95 -55.96 L49.94 -55.62 L48.99 -55.15" fill="none" stroke="#000" stroke-width="3.24" stroke-linejoin="round" />
<path d="M69.66 -13.35 L70.54 -13.94 L71.34 -14.65 L72.05 -15.47 L72.68 -16.41 L73.23 -17.45 L73.67 -18.59 L74.02 -19.83 L74.28 -21.14 L74.43 -22.54 L74.48 -24 L74.43 -25.52 L74.28 -27.09 L74.02 -28.7 L73.67 -30.34 L73.23 -31.99 L72.68 -33.66 L72.05 -35.33 L71.34 -36.98 L70.54 -38.62 L69.66 -40.22 L68.71 -41.78 L67.7 -43.29 L66.62 -44.74 L65.49 -46.12 L64.32 -47.42 L63.11 -48.63 L61.86 -49.76 L60.6 -50.78 L59.31 -51.7 L58.02 -52.5 L56.73 -53.19 L55.45 -53.75 L54.18 -54.19 L52.94 -54.51 L51.73 -54.69 L50.55 -54.74 L49.43 -54.66 L48.35 -54.46 L47.34 -54.12 L46.39 -53.65" fill="none" stroke="#000" stroke-width="1.17" stroke-linejoin="round" />
<path d="M77.02 -17.6 L77.9 -18.19 L78.7 -18.9 L79.41 -19.72 L80.05 -20.66 L80.59 -21.7 L81.03 -22.84 L81.38 -24.08 L81.64 -25.39 L81.79 -26.79 L81.84 -28.25 L81.79 -29.77 L81.64 -31.34 L81.38 -32.95 L81.03 -34.59 L80.59 -36.24 L80.05 -37.91 L79.41 -39.58 L78.7 -41.23 L77.9 -42.87 L77.02 -44.47 L76.07 -46.03 L75.06 -47.54 L73.98 -48.99 L72.86 -50.37 L71.68 -51.67 L70.47 -52.88 L69.23 -54.01 L67.96 -55.03 L66.68 -55.95 L65.38 -56.75 L64.09 -57.44 L62.81 -58 L61.54 -58.44 L60.3 -58.76 L59.09 -58.94 L57.91 -58.99 L56.79 -58.91 L55.71 -58.71 L54.7 -58.37 L53.75 -57.9" fill="none" stroke="#000" stroke-width="2.34" stroke-linejoin="round" />
<path d="M75 -22 Q80 -27 84 -26 Q85 -22 80 -17 L76 -15 Z" fill="#fff" stroke="#000" stroke-width="1.5"/>
<path d="M65.33 -10.85 L66.21 -11.44 L67.01 -12.15 L67.72 -12.97 L68.35 -13.91 L68.9 -14.95 L69.34 -16.09 L69.69 -17.33 L69.95 -18.64 L70.1 -20.04 L70.15 -21.5 L70.1 -23.02 L69.95 -24.59 L69.69 -26.2 L69.34 -27.84 L68.9 -29.49 L68.35 -31.16 L67.72 -32.83 L67.01 -34.48 L66.21 -36.12 L65.33 -37.72 L64.38 -39.28 L63.37 -40.79 L62.29 -42.24 L61.16 -43.62 L59.99 -44.92 L58.78 -46.13 L57.53 -47.26 L56.27 -48.28 L54.98 -49.2 L53.69 -50 L52.4 -50.69 L51.12 -51.25 L49.85 -51.69 L48.61 -52.01 L47.4 -52.19 L46.22 -52.24 L45.1 -52.16 L44.02 -51.96 L43.01 -51.62 L42.06 -51.15" fill="none" stroke="#000" stroke-width="1.8" stroke-linejoin="round" />
<path d="M22.52 -31 L22.58 -32.53 L22.75 -33.99 L23.05 -35.35 L23.46 -36.61 L23.98 -37.76 L24.61 -38.79 L25.34 -39.7 L26.16 -40.46 L27.08 -41.09 L42.67 -50.09 L43.67 -50.57 L44.75 -50.91 L45.9 -51.09 L47.11 -51.12 L48.36 -50.99 L49.66 -50.72 L50.99 -50.29 L52.33 -49.72 L53.69 -49 L55.05 -48.15 L56.4 -47.16 L57.73 -46.06 L59.03 -44.84 L60.28 -43.51 L61.49 -42.09 L62.63 -40.58 L63.71 -39 L64.72 -37.36 L65.64 -35.68 L66.46 -33.95 L67.19 -32.21 L67.82 -30.45 L68.34 -28.7 L68.75 -26.97 L69.05 -25.26 L69.22 -23.6 L69.28 -22 L69.22 -20.47 L69.05 -19.01 L68.75 -17.65 L68.34 -16.39 L67.82 -15.24 L67.19 -14.21 L66.46 -13.3 L65.64 -12.54 L64.72 -11.91 L49.13 -2.91 L48.13 -2.43 L47.05 -2.09 L45.9 -1.91 L44.69 -1.88 L43.44 -2.01 L42.14 -2.28 L40.81 -2.71 L39.46 -3.28 L38.11 -4 L36.75 -4.85 L35.4 -5.84 L34.07 -6.94 L32.77 -8.16 L31.52 -9.49 L30.31 -10.91 L29.16 -12.42 L28.09 -14 L27.08 -15.64 L26.16 -17.32 L25.34 -19.05 L24.61 -20.79 L23.98 -22.55 L23.46 -24.3 L23.05 -26.03 L22.75 -27.74 L22.58 -29.4 Z" fill="#fff" stroke="#000" stroke-width="1.98" stroke-linejoin="round" />
<path d="M58.92 -9.81 L59.34 -10.59 L59.7 -11.43 L60 -12.34 L60.25 -13.29 L60.43 -14.29 L60.55 -15.35 L60.61 -16.44 L60.61 -17.57 L60.55 -18.73 L60.43 -19.93 L60.25 -21.14 L60 -22.38 L59.7 -23.63 L59.34 -24.89 L58.92 -26.15 L58.45 -27.42 L57.93 -28.67 L57.35 -29.92 L56.73 -31.15 L56.06 -32.36 L55.34 -33.55 L54.59 -34.71 L53.8 -35.83 L52.97 -36.91 L52.11 -37.95 L51.22 -38.95 L50.31 -39.89 L49.38 -40.77 L48.43 -41.6 L47.47 -42.37 L46.5 -43.07 L45.52 -43.71 L44.54 -44.27 L43.57 -44.77 L42.59 -45.19 L41.63 -45.53 L40.68 -45.8 L39.75 -45.98 L38.84 -46.09 L37.96 -46.12" fill="none" stroke="#000" stroke-width="1.17" stroke-linejoin="round" />
<path d="M36.5 -41 Q45 -38 48 -27 L51 -14 L48 -13 L45 -25 Q42 -35 34.5 -38 Z" fill="#fff" stroke="#000" stroke-width="1.3"/>
<path d="M40 -8 Q44 -13 47 -9 L48 -1 Q44 -3 41 1 Z" fill="#fff" stroke="#000" stroke-width="1.3"/>
<path d="M49.13 -2.91 L49.96 -3.47 L50.72 -4.14 L51.4 -4.92 L51.99 -5.81 L52.51 -6.8 L52.93 -7.88 L53.26 -9.05 L53.5 -10.29 L53.65 -11.62 L53.69 -13 L53.65 -14.44 L53.5 -15.93 L53.26 -17.45 L52.93 -19 L52.51 -20.57 L51.99 -22.15 L51.4 -23.73 L50.72 -25.3 L49.96 -26.85 L49.13 -28.36 L48.23 -29.84 L47.27 -31.27 L46.25 -32.65 L45.18 -33.95 L44.07 -35.19 L42.92 -36.34 L41.74 -37.4 L40.54 -38.37 L39.33 -39.24 L38.11 -40 L36.88 -40.65 L35.67 -41.19 L34.47 -41.6 L33.29 -41.9 L32.14 -42.07 L31.03 -42.12 L29.96 -42.05 L28.94 -41.85 L27.98 -41.53 L27.08 -41.09" fill="none" stroke="#000" stroke-width="1.62" stroke-linejoin="round" />
<path d="M6.75 -18.1 L6.8 -19.31 L6.94 -20.46 L7.17 -21.53 L7.5 -22.53 L7.91 -23.44 L8.4 -24.25 L8.98 -24.96 L9.63 -25.57 L10.36 -26.06 L29.41 -37.06 L30.2 -37.44 L31.05 -37.7 L31.96 -37.85 L32.91 -37.87 L33.9 -37.77 L34.92 -37.55 L35.97 -37.22 L37.03 -36.76 L38.11 -36.2 L39.18 -35.53 L40.24 -34.75 L41.29 -33.88 L42.31 -32.92 L43.3 -31.87 L44.25 -30.75 L45.16 -29.56 L46.01 -28.31 L46.8 -27.02 L47.53 -25.69 L48.18 -24.33 L48.76 -22.95 L49.25 -21.57 L49.66 -20.18 L49.98 -18.82 L50.22 -17.47 L50.36 -16.16 L50.4 -14.9 L50.36 -13.69 L50.22 -12.54 L49.98 -11.47 L49.66 -10.47 L49.25 -9.56 L48.76 -8.75 L48.18 -8.04 L47.53 -7.43 L46.8 -6.94 L27.75 4.06 L26.96 4.44 L26.11 4.7 L25.2 4.85 L24.25 4.87 L23.26 4.77 L22.24 4.55 L21.19 4.22 L20.12 3.76 L19.05 3.2 L17.98 2.53 L16.92 1.75 L15.87 0.88 L14.85 -0.08 L13.86 -1.13 L12.9 -2.25 L12 -3.44 L11.15 -4.69 L10.36 -5.98 L9.63 -7.31 L8.98 -8.67 L8.4 -10.05 L7.91 -11.43 L7.5 -12.82 L7.17 -14.18 L6.94 -15.53 L6.8 -16.84 Z" fill="#fff" stroke="#000" stroke-width="1.98" stroke-linejoin="round" />
<ellipse cx="19.05" cy="-11" rx="17.39" ry="10.04" transform="rotate(60 19.05 -11)" fill="#fff" stroke="#000" stroke-width="1.98" />
<ellipse cx="19.05" cy="-11" rx="15.68" ry="9.05" transform="rotate(60 19.05 -11)" fill="none" stroke="#000" stroke-width="0.99" />
<path d="M31.21 2.06 L31.87 1.62 L32.47 1.09 L33 0.47 L33.47 -0.23 L33.88 -1.01 L34.21 -1.86 L34.47 -2.78 L34.66 -3.77 L34.78 -4.81 L34.81 -5.9 L34.78 -7.04 L34.66 -8.21 L34.47 -9.41 L34.21 -10.64 L33.88 -11.87 L33.47 -13.12 L33 -14.37 L32.47 -15.6 L31.87 -16.82 L31.21 -18.02 L30.5 -19.19 L29.74 -20.31 L28.94 -21.4 L28.1 -22.43 L27.22 -23.4 L26.32 -24.31 L25.39 -25.15 L24.44 -25.91 L23.48 -26.6 L22.52 -27.2 L21.55 -27.71 L20.59 -28.14 L19.65 -28.47 L18.72 -28.7 L17.81 -28.84 L16.93 -28.88 L16.09 -28.82 L15.29 -28.66 L14.53 -28.41 L13.82 -28.06" fill="none" stroke="#000" stroke-width="1.08" stroke-linejoin="round" />
<path d="M-9.01 -5.2 L-8.97 -6.09 L-8.87 -6.93 L-8.7 -7.71 L-8.46 -8.44 L-8.16 -9.11 L-7.8 -9.7 L-7.38 -10.22 L-6.9 -10.67 L-6.37 -11.03 L12.01 -23.2 L12.65 -23.51 L13.34 -23.72 L14.07 -23.83 L14.84 -23.85 L15.65 -23.77 L16.47 -23.6 L17.32 -23.32 L18.18 -22.96 L19.05 -22.5 L19.92 -21.96 L20.78 -21.33 L21.63 -20.62 L22.46 -19.84 L23.26 -18.99 L24.03 -18.08 L24.76 -17.12 L25.45 -16.11 L26.09 -15.07 L26.68 -13.99 L27.21 -12.89 L27.68 -11.77 L28.08 -10.65 L28.41 -9.53 L28.67 -8.42 L28.86 -7.33 L28.97 -6.27 L29.01 -5.25 L28.97 -4.27 L28.86 -3.34 L28.67 -2.47 L28.41 -1.66 L28.08 -0.93 L27.68 -0.27 L27.21 0.31 L26.68 0.8 L26.09 1.2 L6.37 11.03 L5.79 11.31 L5.17 11.5 L4.5 11.61 L3.81 11.62 L3.08 11.55 L2.33 11.39 L1.56 11.14 L0.78 10.81 L-0 10.4 L-0.78 9.91 L-1.56 9.34 L-2.33 8.7 L-3.08 7.99 L-3.81 7.23 L-4.5 6.41 L-5.17 5.54 L-5.79 4.62 L-6.37 3.68 L-6.9 2.7 L-7.38 1.71 L-7.8 0.7 L-8.16 -0.32 L-8.46 -1.33 L-8.7 -2.33 L-8.87 -3.32 L-8.97 -4.27 Z" fill="#fff" stroke="#000" stroke-width="1.98" stroke-linejoin="round" />
<path d="M17 -22 Q22 -20 25 -12 L27 -3 L24 -1.5 L22 -10 Q20 -16 15 -18.5 Z" fill="#fff" stroke="#000" stroke-width="1.4"/>
<path d="M14 -23 L17 -27 L21 -25" fill="none" stroke="#000" stroke-width="1.2"/>
<line x1="24" y1="3" x2="28" y2="0" stroke="#000" stroke-width="1.08" />
<ellipse cx="0" cy="0" rx="12.74" ry="7.35" transform="rotate(60 0 0)" fill="#fff" stroke="#000" stroke-width="2.88" />
<ellipse cx="0" cy="0" rx="8.57" ry="4.95" transform="rotate(60 0 0)" fill="#fff" stroke="#000" stroke-width="1.26" />
<path d="M-4.53 -4.31 L-4.66 -3.83 L-4.74 -3.31 L-4.76 -2.75 L-4.74 -2.16 L-4.66 -1.55 L-4.53 -0.92 L-4.35 -0.28 L-4.13 0.37 L-3.85 1.01 L-3.54 1.64 L-3.19 2.25 L-2.8 2.83 L-2.38 3.39 L-1.94 3.91 L-1.47 4.38 L-0.99 4.81 L-0.5 5.18 L-0 5.5 L0.5 5.76 L0.99 5.95 L1.47 6.08 L1.94 6.14 L2.38 6.14 L2.8 6.07 L3.19 5.93 L3.54 5.72 L3.85 5.46 L4.13 5.13 L4.35 4.75 L4.53 4.31" fill="none" stroke="#000" stroke-width="1.08" stroke-linejoin="round" />
</g>
<g id="handle">
<path d="M-16.89 -9.75 L-16.82 -11.41 L-16.63 -12.99 L-16.31 -14.46 L-15.87 -15.83 L-15.31 -17.08 L-14.62 -18.19 L-13.83 -19.17 L-12.94 -20 L-11.94 -20.68 L30.49 -45.18 L31.58 -45.71 L32.75 -46.07 L33.99 -46.26 L35.3 -46.29 L36.66 -46.16 L38.06 -45.86 L39.5 -45.4 L40.96 -44.78 L42.44 -44 L43.91 -43.08 L45.37 -42.01 L46.81 -40.81 L48.21 -39.49 L49.57 -38.05 L50.88 -36.51 L52.12 -34.88 L53.29 -33.17 L54.38 -31.39 L55.37 -29.57 L56.27 -27.7 L57.06 -25.81 L57.74 -23.9 L58.3 -22.01 L58.75 -20.13 L59.07 -18.28 L59.26 -16.49 L59.32 -14.75 L59.26 -13.09 L59.07 -11.51 L58.75 -10.04 L58.3 -8.67 L57.74 -7.42 L57.06 -6.31 L56.27 -5.33 L55.37 -4.5 L54.38 -3.82 L11.94 20.68 L10.86 21.21 L9.69 21.57 L8.44 21.76 L7.14 21.79 L5.78 21.66 L4.37 21.36 L2.93 20.9 L1.47 20.28 L-0 19.5 L-1.47 18.58 L-2.93 17.51 L-4.37 16.31 L-5.78 14.99 L-7.14 13.55 L-8.44 12.01 L-9.69 10.38 L-10.86 8.67 L-11.94 6.89 L-12.94 5.07 L-13.83 3.2 L-14.63 1.31 L-15.31 -0.6 L-15.87 -2.49 L-16.31 -4.37 L-16.63 -6.22 L-16.82 -8.01 Z" fill="#fff" stroke="#000" stroke-width="2.07" stroke-linejoin="round" />
<path d="M20.8 9.2 Q20.5 -5 22.7 -10.5 Q25 -14 28.6 -16.4 L40.4 -23.3 Q47 -26 53.2 -21.3 Q57 -16 55.2 -13.4 L53.2 -5.6 L34 9 Q25 12 20.8 9.2 Z" fill="#fff" stroke="#000" stroke-width="1.5"/>
<path d="M27.7 1.3 Q27.8 -5 33.6 -8.5 L47.3 -13.4 Q52 -14 51.2 -9.5 Q50.5 -4 46.3 1.3 L32.6 10.1 Q28 11 27.7 1.3 Z" fill="#fff" stroke="#000" stroke-width="2"/>
<path d="M29.5 1.5 Q30 -4 35 -6.5 L47 -11 Q50 -11 49 -7.5" fill="none" stroke="#000" stroke-width="0.9"/>
<line x1="27.7" y1="-14.9" x2="33.6" y2="-8.5" stroke="#000" stroke-width="0.99" />
<line x1="40.4" y1="-22.8" x2="45.8" y2="-14.4" stroke="#000" stroke-width="0.99" />
</g>
<g id="open_dark">
<ellipse cx="0" cy="0" rx="23.88" ry="13.79" transform="rotate(60 0 0)" fill="#fff" stroke="#000" stroke-width="2.88" />
<ellipse cx="0" cy="0" rx="21.19" ry="12.23" transform="rotate(60 0 0)" fill="#fff" stroke="#000" stroke-width="0.99" />
<ellipse cx="0.87" cy="-0.5" rx="19.35" ry="11.17" transform="rotate(60 0.87 -0.5)" fill="none" stroke="#000" stroke-width="2.16" />
<line x1="13.69" y1="2.32" x2="15.2" y2="-2.18" stroke="#000" stroke-width="2.7" />
<line x1="5.76" y1="-12.11" x2="10.09" y2="-11.49" stroke="#000" stroke-width="2.7" />
<line x1="-5.85" y1="-17.8" x2="2.59" y2="-15.16" stroke="#000" stroke-width="2.7" />
<line x1="-12.41" y1="-10.46" x2="-1.64" y2="-10.43" stroke="#000" stroke-width="2.7" />
<line x1="-8.97" y1="4.37" x2="0.58" y2="-0.85" stroke="#000" stroke-width="2.7" />
<line x1="1.88" y1="15.54" x2="7.58" y2="6.35" stroke="#000" stroke-width="2.7" />
<line x1="11.96" y1="14.63" x2="14.09" y2="5.76" stroke="#000" stroke-width="2.7" />
<ellipse cx="6.93" cy="-4" rx="12.25" ry="7.07" transform="rotate(60 6.93 -4)" fill="none" stroke="#000" stroke-width="2.16" />
<ellipse cx="7.79" cy="-4.5" rx="8.57" ry="4.95" transform="rotate(60 7.79 -4.5)" fill="#fff" stroke="#000" stroke-width="1.26" />
<path d="M-11.11 -5.22 L-10.94 -4.12 L-10.7 -2.99 L-10.41 -1.85 L-10.05 -0.71 L-9.63 0.44 L-9.16 1.58 L-8.64 2.71 L-8.06 3.82 L-7.43 4.91 L-6.76 5.97 L-6.05 7 L-5.31 7.99 L-4.52 8.93 L-3.72 9.82 L-2.88 10.65 L-2.03 11.43 L-1.16 12.14 L-0.27 12.78 L0.61 13.35 L1.5 13.85 L2.39 14.27 L3.26 14.61 L4.13 14.87 L4.97 15.04 L5.8 15.14 L6.6 15.15 L7.36 15.07 L8.09 14.91 L8.79 14.67 L9.44 14.35" fill="none" stroke="#000" stroke-width="3.15" stroke-linejoin="round" />
<path d="M-5 9 l3 -1 M-2 12 l3 -2 M2 10 l2 1 M3 14 l2 -1" stroke="#000" stroke-width="1.3"/>
</g>
<g id="open_light">
<ellipse cx="0" cy="0" rx="23.88" ry="13.79" transform="rotate(60 0 0)" fill="#fff" stroke="#000" stroke-width="2.7" />
<ellipse cx="1.3" cy="-0.75" rx="21.55" ry="12.44" transform="rotate(60 1.3 -0.75)" fill="none" stroke="#000" stroke-width="1.08" />
<ellipse cx="4.33" cy="-2.5" rx="18.37" ry="10.61" transform="rotate(60 4.33 -2.5)" fill="none" stroke="#000" stroke-width="1.08" />
<ellipse cx="9.53" cy="-5.5" rx="12" ry="6.93" transform="rotate(60 9.53 -5.5)" fill="none" stroke="#000" stroke-width="1.17" />
<path d="M16.53 4.08 L16.82 3.72 L17.08 3.33 L17.31 2.9 L17.51 2.44 L17.67 1.94 L17.81 1.42 L17.91 0.87 L17.98 0.29 L18.01 -0.31 L18.01 -0.93 L17.97 -1.57 L17.9 -2.22 L17.8 -2.89 L17.67 -3.57 L17.5 -4.26 L17.3 -4.95 L17.07 -5.64 L16.81 -6.34 L16.51 -7.03 L16.2 -7.71 L15.85 -8.38 L15.48 -9.05 L15.08 -9.7 L14.67 -10.33 L14.23 -10.94 L13.77 -11.53 L13.3 -12.1 L12.81 -12.64 L12.31 -13.15 L11.8 -13.63" fill="none" stroke="#000" stroke-width="2.88" stroke-linejoin="round" />
<path d="M15.73 11.27 L16.03 10.78 L16.3 10.25 L16.53 9.69 L16.74 9.1 L16.92 8.48 L17.06 7.83 L17.17 7.16 L17.26 6.46 L17.3 5.74 L17.32 5 L17.3 4.24 L17.26 3.47 L17.17 2.67 L17.06 1.87 L16.92 1.06 L16.74 0.23 L16.53 -0.6 L16.3 -1.43 L16.03 -2.27 L15.73 -3.11 L15.4 -3.95 L15.05 -4.78 L14.67 -5.61 L14.27 -6.43 L13.84 -7.24 L13.38 -8.04 L12.9 -8.82 L12.41 -9.59 L11.89 -10.34 L11.35 -11.07" fill="none" stroke="#000" stroke-width="1.62" stroke-linejoin="round" />
<line x1="-11.7" y1="4.2" x2="-8.7" y2="3" stroke="#000" stroke-width="1.08" />
<line x1="-3" y1="-0.2" x2="2.2" y2="-3" stroke="#000" stroke-width="1.08" />
<line x1="-3.5" y1="-8" x2="-1" y2="-14" stroke="#000" stroke-width="1.08" />
</g>
<g id="adapt">
<path d="M-31.18 -3 L-31.13 -4.34 L-30.98 -5.72 L-30.73 -7.14 L-30.39 -8.58 L-29.96 -10.04 L-29.44 -11.5 L-28.83 -12.96 L-28.14 -14.4 L-27.37 -15.8 L-26.54 -17.17 L-25.64 -18.49 L-24.68 -19.74 L-23.68 -20.92 L-22.63 -22.03 L-21.55 -23.05 L-20.44 -23.97 L-19.32 -24.79 L-18.19 -25.5 L-17.05 -26.1 L-15.93 -26.57 L-14.82 -26.93 L-13.74 -27.16 L-12.7 -27.26 L-11.69 -27.24 L-10.74 -27.09 L-9.84 -26.81 L-9 -26.41 L1.39 -20.41 L2.16 -19.89 L2.85 -19.25 L3.46 -18.5 L3.98 -17.64 L4.41 -16.68 L4.75 -15.63 L5 -14.49 L5.15 -13.28 L5.2 -12 L5.15 -10.66 L5 -9.28 L4.75 -7.86 L4.41 -6.42 L3.98 -4.96 L3.46 -3.5 L2.85 -2.04 L2.16 -0.6 L1.39 0.8 L0.56 2.17 L-0.34 3.49 L-1.3 4.74 L-2.3 5.92 L-3.35 7.03 L-4.43 8.05 L-5.54 8.97 L-6.66 9.79 L-7.79 10.5 L-8.93 11.1 L-10.05 11.57 L-11.16 11.93 L-12.24 12.16 L-13.28 12.26 L-14.29 12.24 L-15.25 12.09 L-16.14 11.81 L-16.98 11.41 L-27.37 5.41 L-28.14 4.89 L-28.83 4.25 L-29.44 3.5 L-29.96 2.64 L-30.39 1.68 L-30.73 0.63 L-30.98 -0.51 L-31.13 -1.72 Z" fill="#fff" stroke="currentColor" stroke-width="1.8" stroke-linejoin="round" />
<path d="M-19.92 2.5 L-19.87 1.25 L-19.73 -0.04 L-19.51 -1.36 L-19.19 -2.71 L-18.78 -4.07 L-18.29 -5.44 L-17.73 -6.8 L-17.08 -8.14 L-16.37 -9.45 L-15.59 -10.73 L-14.75 -11.95 L-13.86 -13.12 L-12.92 -14.23 L-11.94 -15.26 L-10.93 -16.21 L-9.9 -17.07 L-8.85 -17.84 L-7.79 -18.5 L-6.74 -19.06 L-5.69 -19.5 L-4.66 -19.83 L-3.65 -20.05 L-2.67 -20.15 L-1.73 -20.12 L-0.84 -19.98 L-0 -19.72 L0.78 -19.35 L8.57 -14.85 L9.29 -14.36 L9.93 -13.76 L10.5 -13.06 L10.99 -12.26 L11.39 -11.37 L11.71 -10.38 L11.94 -9.32 L12.08 -8.19 L12.12 -7 L12.08 -5.75 L11.94 -4.46 L11.71 -3.14 L11.39 -1.79 L10.99 -0.43 L10.5 0.94 L9.93 2.3 L9.29 3.64 L8.57 4.95 L7.79 6.23 L6.95 7.45 L6.06 8.62 L5.12 9.73 L4.15 10.76 L3.14 11.71 L2.11 12.57 L1.06 13.34 L-0 14 L-1.06 14.56 L-2.11 15 L-3.14 15.33 L-4.15 15.55 L-5.12 15.65 L-6.06 15.62 L-6.95 15.48 L-7.79 15.22 L-8.57 14.85 L-16.37 10.35 L-17.08 9.86 L-17.73 9.26 L-18.29 8.56 L-18.78 7.76 L-19.19 6.87 L-19.51 5.88 L-19.73 4.82 L-19.87 3.69 Z" fill="#fff" stroke="currentColor" stroke-width="1.8" stroke-linejoin="round" />
<ellipse cx="0" cy="0" rx="17.15" ry="9.9" transform="rotate(-60 0 0)" fill="#fff" stroke="currentColor" stroke-width="1.8" />
<path d="M2.71 -17.99 L1.82 -18.73 L0.82 -19.27 L-0.29 -19.61 L-1.48 -19.75 L-2.76 -19.68 L-4.09 -19.4 L-5.46 -18.92 L-6.85 -18.24 L-8.24 -17.38 L-9.62 -16.34 L-10.97 -15.14 L-12.26 -13.79 L-13.49 -12.31 L-14.63 -10.72 L-15.67 -9.05 L-16.6 -7.31 L-17.41 -5.53 L-18.07 -3.73 L-18.59 -1.93 L-18.96 -0.16 L-19.17 1.55 L-19.22 3.19 L-19.11 4.74 L-18.84 6.16 L-18.42 7.45 L-17.85 8.59 L-17.13 9.56 L-16.28 10.35 L-15.31 10.94 L-14.23 11.34" fill="none" stroke="currentColor" stroke-width="1.53" stroke-linejoin="round" />
<path d="M4.27 -17.09 L3.38 -17.83 L2.38 -18.37 L1.27 -18.71 L0.07 -18.85 L-1.2 -18.78 L-2.53 -18.5 L-3.9 -18.02 L-5.29 -17.34 L-6.68 -16.48 L-8.06 -15.44 L-9.41 -14.24 L-10.7 -12.89 L-11.93 -11.41 L-13.07 -9.82 L-14.12 -8.15 L-15.04 -6.41 L-15.85 -4.63 L-16.51 -2.83 L-17.03 -1.03 L-17.4 0.74 L-17.61 2.45 L-17.66 4.09 L-17.55 5.64 L-17.29 7.06 L-16.86 8.35 L-16.29 9.49 L-15.57 10.46 L-14.72 11.25 L-13.75 11.84 L-12.67 12.24" fill="none" stroke="currentColor" stroke-width="1.53" stroke-linejoin="round" />
<path d="M5.83 -16.19 L4.94 -16.93 L3.94 -17.47 L2.83 -17.81 L1.63 -17.95 L0.36 -17.88 L-0.97 -17.6 L-2.34 -17.12 L-3.73 -16.44 L-5.12 -15.58 L-6.5 -14.54 L-7.85 -13.34 L-9.15 -11.99 L-10.37 -10.51 L-11.51 -8.92 L-12.56 -7.25 L-13.49 -5.51 L-14.29 -3.73 L-14.95 -1.93 L-15.47 -0.13 L-15.84 1.64 L-16.05 3.35 L-16.11 4.99 L-16 6.54 L-15.73 7.96 L-15.3 9.25 L-14.73 10.39 L-14.01 11.36 L-13.16 12.15 L-12.19 12.74 L-11.11 13.14" fill="none" stroke="currentColor" stroke-width="1.53" stroke-linejoin="round" />
<path d="M7.38 -15.29 L6.5 -16.03 L5.5 -16.57 L4.39 -16.91 L3.19 -17.05 L1.92 -16.98 L0.59 -16.7 L-0.78 -16.22 L-2.17 -15.54 L-3.57 -14.68 L-4.95 -13.64 L-6.29 -12.44 L-7.59 -11.09 L-8.81 -9.61 L-9.96 -8.02 L-11 -6.35 L-11.93 -4.61 L-12.73 -2.83 L-13.4 -1.03 L-13.92 0.77 L-14.28 2.54 L-14.5 4.25 L-14.55 5.89 L-14.44 7.44 L-14.17 8.86 L-13.74 10.15 L-13.17 11.29 L-12.45 12.26 L-11.6 13.05 L-10.63 13.64 L-9.55 14.04" fill="none" stroke="currentColor" stroke-width="1.53" stroke-linejoin="round" />
<ellipse cx="0" cy="0" rx="9.8" ry="5.66" transform="rotate(-60 0 0)" fill="none" stroke="currentColor" stroke-width="1.62" />
<line x1="6.45" y1="-6.03" x2="-0.19" y2="-6.37" stroke="currentColor" stroke-width="1.08" />
<line x1="1.5" y1="-8.47" x2="-3.37" y2="-7.93" stroke="currentColor" stroke-width="1.08" />
<line x1="-4.96" y1="-2.44" x2="-7.51" y2="-4.06" stroke="currentColor" stroke-width="1.08" />
<line x1="-6.45" y1="6.03" x2="-8.47" y2="1.37" stroke="currentColor" stroke-width="1.08" />
<line x1="-1.5" y1="8.47" x2="-5.29" y2="2.93" stroke="currentColor" stroke-width="1.08" />
<line x1="4.96" y1="2.44" x2="-1.15" y2="-0.94" stroke="currentColor" stroke-width="1.08" />
<ellipse cx="-4.33" cy="-2.5" rx="6.12" ry="3.54" transform="rotate(-60 -4.33 -2.5)" fill="none" stroke="currentColor" stroke-width="1.08" />
</g>
</defs>
<use href="#cart36" transform="translate(834.7 322.3)"/>
<use href="#cart36" transform="translate(1251.7 641.6)"/>
<use href="#handle" transform="translate(951.3 256.8) scale(0.97)"/>
<use href="#open_light" transform="translate(951.3 256.8) scale(0.97)"/>
<use href="#handle" transform="translate(405.3 569.6)"/>
<use href="#open_dark" transform="translate(405.3 569.6)"/>
<line x1="614.24" y1="449.25" x2="577" y2="470.75" stroke="#000" stroke-width="1.17" stroke-dasharray="20 5 6 5" stroke-dashoffset="0"/>
<line x1="543.23" y1="490.25" x2="514.65" y2="506.75" stroke="#000" stroke-width="1.17" stroke-dasharray="6 5" stroke-dashoffset="0"/>
<line x1="484.34" y1="524.25" x2="458.79" y2="539" stroke="#000" stroke-width="1.17" stroke-dasharray="6 5 6 5" stroke-dashoffset="0"/>
<line x1="398.6" y1="573.75" x2="370.89" y2="589.75" stroke="#000" stroke-width="1.17" stroke-dasharray="10 5 6 5" stroke-dashoffset="0"/>
<line x1="336.25" y1="609.75" x2="308.53" y2="625.75" stroke="#000" stroke-width="1.17" stroke-dasharray="8 5 6 5" stroke-dashoffset="0"/>
<path d="M541.5 481.25 L541.53 480.4 L541.63 479.59 L541.79 478.83 L542.02 478.13 L542.31 477.49 L542.66 476.92 L543.06 476.42 L543.52 475.99 L544.03 475.64 L563.08 464.64 L563.64 464.38 L564.24 464.19 L564.88 464.09 L565.55 464.07 L566.25 464.14 L566.97 464.3 L567.7 464.53 L568.45 464.85 L569.21 465.25 L569.96 465.72 L570.71 466.27 L571.45 466.88 L572.17 467.56 L572.87 468.3 L573.54 469.09 L574.18 469.93 L574.78 470.8 L575.33 471.71 L575.84 472.65 L576.3 473.61 L576.71 474.58 L577.06 475.56 L577.35 476.53 L577.57 477.49 L577.74 478.44 L577.84 479.36 L577.87 480.25 L577.84 481.1 L577.74 481.91 L577.57 482.67 L577.35 483.37 L577.06 484.01 L576.71 484.58 L576.3 485.08 L575.84 485.51 L575.33 485.86 L556.28 496.86 L555.72 497.12 L555.12 497.31 L554.49 497.41 L553.82 497.43 L553.12 497.36 L552.4 497.2 L551.66 496.97 L550.91 496.65 L550.16 496.25 L549.4 495.78 L548.65 495.23 L547.91 494.62 L547.19 493.94 L546.5 493.2 L545.83 492.41 L545.19 491.57 L544.59 490.7 L544.03 489.79 L543.52 488.85 L543.06 487.89 L542.66 486.92 L542.31 485.94 L542.02 484.97 L541.79 484.01 L541.63 483.06 L541.53 482.14 Z" fill="#fff" stroke="#000" stroke-width="1.98" stroke-linejoin="round" />
<path d="M557 472 L566 467 Q569 466 570 469 L570.5 474 Q570 477 567 478.5 L560 482 Q557 483 556.5 480 Z" fill="#fff" stroke="#000" stroke-width="1.5"/>
<path d="M560.5 472.5 L563.5 476.5 L566.5 469.5" fill="none" stroke="#000" stroke-width="1.3"/>
<path d="M563 488 l0.8 1.6" stroke="#000" stroke-width="1.6"/>
<path d="M567 486 l0.8 1.6" stroke="#000" stroke-width="1.6"/>
<path d="M571 484 l0.8 1.6" stroke="#000" stroke-width="1.6"/>
<path d="M574.5 481.5 l0.8 1.6" stroke="#000" stroke-width="1.6"/>
<path d="M538.2 482.35 L538.24 481.43 L538.35 480.56 L538.52 479.74 L538.77 478.98 L539.08 478.29 L539.46 477.67 L539.9 477.13 L540.39 476.67 L540.94 476.29 L545.27 473.79 L545.88 473.51 L546.52 473.31 L547.21 473.2 L547.94 473.18 L548.69 473.25 L549.47 473.42 L550.26 473.68 L551.07 474.02 L551.89 474.45 L552.7 474.96 L553.51 475.55 L554.31 476.22 L555.09 476.95 L555.84 477.74 L556.56 478.6 L557.25 479.5 L557.9 480.45 L558.5 481.43 L559.05 482.44 L559.55 483.48 L559.99 484.53 L560.36 485.58 L560.68 486.63 L560.92 487.67 L561.1 488.69 L561.21 489.69 L561.24 490.65 L561.21 491.57 L561.1 492.44 L560.92 493.26 L560.68 494.02 L560.36 494.71 L559.99 495.33 L559.55 495.87 L559.05 496.33 L558.5 496.71 L554.17 499.21 L553.57 499.49 L552.92 499.69 L552.23 499.8 L551.51 499.82 L550.76 499.75 L549.98 499.58 L549.18 499.32 L548.37 498.98 L547.56 498.55 L546.74 498.04 L545.93 497.45 L545.14 496.78 L544.36 496.05 L543.6 495.26 L542.88 494.4 L542.19 493.5 L541.55 492.55 L540.94 491.57 L540.39 490.56 L539.9 489.52 L539.46 488.47 L539.08 487.42 L538.77 486.37 L538.52 485.33 L538.35 484.31 L538.24 483.31 Z" fill="#000" stroke="#000" stroke-width="1.98" stroke-linejoin="round" />
<path d="M532.4 485.5 L532.44 484.56 L532.55 483.67 L532.73 482.84 L532.98 482.07 L533.29 481.37 L533.68 480.74 L534.13 480.19 L534.63 479.72 L535.19 479.33 L540.82 476.08 L541.43 475.79 L542.09 475.58 L542.79 475.47 L543.53 475.46 L544.3 475.53 L545.09 475.7 L545.9 475.96 L546.73 476.31 L547.56 476.75 L548.39 477.27 L549.21 477.87 L550.02 478.55 L550.82 479.29 L551.58 480.11 L552.32 480.97 L553.02 481.89 L553.68 482.86 L554.29 483.86 L554.86 484.89 L555.36 485.95 L555.81 487.01 L556.19 488.09 L556.51 489.16 L556.76 490.22 L556.94 491.26 L557.05 492.27 L557.08 493.25 L557.05 494.19 L556.94 495.08 L556.76 495.91 L556.51 496.68 L556.19 497.38 L555.81 498.01 L555.36 498.56 L554.86 499.03 L554.29 499.42 L548.66 502.67 L548.05 502.96 L547.39 503.17 L546.69 503.28 L545.95 503.29 L545.19 503.22 L544.39 503.05 L543.58 502.79 L542.76 502.44 L541.93 502 L541.1 501.48 L540.27 500.88 L539.46 500.2 L538.67 499.46 L537.9 498.64 L537.17 497.78 L536.46 496.86 L535.81 495.89 L535.19 494.89 L534.63 493.86 L534.13 492.8 L533.68 491.74 L533.29 490.66 L532.98 489.59 L532.73 488.53 L532.55 487.49 L532.44 486.48 Z" fill="#fff" stroke="#000" stroke-width="1.98" stroke-linejoin="round" />
<path d="M552.56 500.42 L553.23 499.95 L553.82 499.35 L554.31 498.64 L554.72 497.83 L555.03 496.91 L555.23 495.9 L555.34 494.82 L555.34 493.67 L555.23 492.46 L555.03 491.22 L554.72 489.94 L554.31 488.66 L553.82 487.37 L553.23 486.1 L552.56 484.86 L551.82 483.66 L551.01 482.52 L550.15 481.45 L549.24 480.45 L548.29 479.55 L547.32 478.75 L546.32 478.05 L545.33 477.48 L544.34 477.03 L543.36 476.7 L542.41 476.51 L541.5 476.45 L540.64 476.53 L539.83 476.74 L539.09 477.08" fill="none" stroke="#000" stroke-width="1.08" stroke-linejoin="round" />
<ellipse cx="541.93" cy="491" rx="13.47" ry="7.78" transform="rotate(60 541.93 491)" fill="#fff" stroke="#000" stroke-width="2.16" />
<path d="M550.42 493.91 L550.26 493.1 L550.06 492.27 L549.82 491.43 L549.53 490.59 L549.2 489.76 L548.82 488.93 L546.89 489.51 L547.16 490.11 L547.4 490.71 L547.61 491.31 L547.79 491.91 L547.93 492.51 L548.04 493.1 Z" fill="#111" stroke="#000" stroke-width="0.72" stroke-linejoin="round" />
<path d="M544.66 483.09 L544.04 482.52 L543.4 482 L542.76 481.52 L542.11 481.11 L541.46 480.74 L540.81 480.44 L541.13 483.4 L541.59 483.62 L542.06 483.88 L542.52 484.18 L542.99 484.52 L543.45 484.89 L543.89 485.3 Z" fill="#111" stroke="#000" stroke-width="0.72" stroke-linejoin="round" />
<path d="M536.16 480.21 L535.69 480.46 L535.26 480.77 L534.86 481.14 L534.51 481.56 L534.19 482.04 L533.92 482.56 L536.17 484.92 L536.36 484.55 L536.59 484.2 L536.84 483.9 L537.13 483.64 L537.44 483.41 L537.77 483.23 Z" fill="#111" stroke="#000" stroke-width="0.72" stroke-linejoin="round" />
<path d="M533.46 488.18 L533.61 489 L533.82 489.83 L534.07 490.66 L534.36 491.5 L534.7 492.34 L535.08 493.16 L537 492.56 L536.72 491.96 L536.48 491.36 L536.27 490.76 L536.09 490.15 L535.94 489.56 L535.83 488.97 Z" fill="#111" stroke="#000" stroke-width="0.72" stroke-linejoin="round" />
<path d="M539.27 498.98 L539.89 499.54 L540.53 500.06 L541.17 500.53 L541.82 500.94 L542.47 501.29 L543.12 501.59 L542.78 498.63 L542.32 498.41 L541.85 498.15 L541.38 497.86 L540.92 497.52 L540.46 497.15 L540.01 496.75 Z" fill="#111" stroke="#000" stroke-width="0.72" stroke-linejoin="round" />
<path d="M547.75 501.76 L548.22 501.51 L548.65 501.19 L549.04 500.82 L549.39 500.39 L549.7 499.91 L549.96 499.38 L547.71 497.03 L547.52 497.41 L547.3 497.76 L547.05 498.07 L546.76 498.34 L546.46 498.56 L546.12 498.75 Z" fill="#111" stroke="#000" stroke-width="0.72" stroke-linejoin="round" />
<ellipse cx="540.63" cy="491.75" rx="6.74" ry="3.89" transform="rotate(60 540.63 491.75)" fill="#fff" stroke="#000" stroke-width="1.44" />
<ellipse cx="539.76" cy="492.25" rx="3.18" ry="1.84" transform="rotate(60 539.76 492.25)" fill="#fff" stroke="#000" stroke-width="1.26" />
<path d="M538 488 l3 -1.7 l1.6 3 l-3 1.7 Z" fill="none" stroke="#000" stroke-width="1.2"/>
<path d="M499.49 507.5 L499.52 506.82 L499.6 506.17 L499.73 505.57 L499.91 505.01 L500.14 504.49 L500.42 504.04 L500.75 503.63 L501.11 503.29 L501.52 503.01 L504.55 501.26 L505 501.05 L505.48 500.9 L505.99 500.82 L506.52 500.81 L507.08 500.86 L507.66 500.99 L508.25 501.18 L508.85 501.43 L509.45 501.75 L510.06 502.13 L510.66 502.57 L511.25 503.06 L511.82 503.6 L512.38 504.19 L512.92 504.82 L513.43 505.49 L513.91 506.19 L514.35 506.92 L514.76 507.67 L515.13 508.44 L515.45 509.21 L515.73 509.99 L515.96 510.77 L516.14 511.54 L516.28 512.3 L516.35 513.04 L516.38 513.75 L516.35 514.43 L516.28 515.08 L516.14 515.68 L515.96 516.24 L515.73 516.76 L515.45 517.21 L515.13 517.62 L514.76 517.96 L514.35 518.24 L511.32 519.99 L510.87 520.2 L510.4 520.35 L509.89 520.43 L509.35 520.44 L508.79 520.39 L508.21 520.26 L507.62 520.07 L507.03 519.82 L506.42 519.5 L505.82 519.12 L505.22 518.68 L504.63 518.19 L504.05 517.65 L503.49 517.06 L502.96 516.43 L502.45 515.76 L501.97 515.06 L501.52 514.33 L501.11 513.58 L500.75 512.81 L500.42 512.04 L500.14 511.26 L499.91 510.48 L499.73 509.71 L499.6 508.95 L499.52 508.21 Z" fill="#fff" stroke="#000" stroke-width="1.62" stroke-linejoin="round" />
<ellipse cx="506.42" cy="511.5" rx="9.8" ry="5.66" transform="rotate(60 506.42 511.5)" fill="#fff" stroke="#000" stroke-width="1.62" />
<path d="M490.57 511.35 L490.6 510.56 L490.7 509.81 L490.85 509.1 L491.06 508.45 L491.33 507.86 L491.65 507.32 L492.03 506.86 L492.46 506.46 L492.93 506.14 L500.73 501.64 L501.24 501.39 L501.8 501.21 L502.39 501.12 L503.02 501.11 L503.67 501.17 L504.34 501.31 L505.02 501.53 L505.72 501.83 L506.42 502.2 L507.12 502.64 L507.82 503.15 L508.51 503.72 L509.18 504.35 L509.83 505.04 L510.45 505.77 L511.04 506.55 L511.6 507.36 L512.12 508.21 L512.59 509.08 L513.02 509.97 L513.4 510.88 L513.72 511.78 L513.99 512.69 L514.2 513.58 L514.35 514.46 L514.44 515.32 L514.48 516.15 L514.44 516.94 L514.35 517.69 L514.2 518.4 L513.99 519.05 L513.72 519.64 L513.4 520.18 L513.02 520.64 L512.59 521.04 L512.12 521.36 L504.32 525.86 L503.8 526.11 L503.25 526.29 L502.65 526.38 L502.03 526.39 L501.38 526.33 L500.71 526.19 L500.03 525.97 L499.33 525.67 L498.63 525.3 L497.93 524.86 L497.23 524.35 L496.54 523.78 L495.87 523.15 L495.22 522.46 L494.6 521.73 L494.01 520.95 L493.45 520.14 L492.93 519.29 L492.46 518.42 L492.03 517.53 L491.65 516.62 L491.33 515.72 L491.06 514.81 L490.85 513.92 L490.7 513.04 L490.6 512.18 Z" fill="#fff" stroke="#000" stroke-width="1.8" stroke-linejoin="round" />
<path d="M477.15 517.6 L477.19 516.68 L477.29 515.81 L477.47 514.99 L477.71 514.23 L478.03 513.54 L478.4 512.92 L478.84 512.38 L479.34 511.92 L479.89 511.54 L492.01 504.54 L492.62 504.26 L493.26 504.06 L493.95 503.95 L494.67 503.93 L495.43 504 L496.21 504.17 L497 504.43 L497.81 504.77 L498.63 505.2 L499.44 505.71 L500.25 506.3 L501.05 506.97 L501.83 507.7 L502.58 508.49 L503.3 509.35 L503.99 510.25 L504.64 511.2 L505.24 512.18 L505.79 513.19 L506.29 514.23 L506.73 515.28 L507.1 516.33 L507.42 517.38 L507.66 518.42 L507.84 519.44 L507.94 520.44 L507.98 521.4 L507.94 522.32 L507.84 523.19 L507.66 524.01 L507.42 524.77 L507.1 525.46 L506.73 526.08 L506.29 526.62 L505.79 527.08 L505.24 527.46 L493.12 534.46 L492.51 534.74 L491.87 534.94 L491.18 535.05 L490.46 535.07 L489.7 535 L488.92 534.83 L488.13 534.57 L487.32 534.23 L486.5 533.8 L485.69 533.29 L484.88 532.7 L484.08 532.03 L483.3 531.3 L482.55 530.51 L481.83 529.65 L481.14 528.75 L480.49 527.8 L479.89 526.82 L479.34 525.81 L478.84 524.77 L478.4 523.72 L478.03 522.67 L477.71 521.62 L477.47 520.58 L477.29 519.56 L477.19 518.56 Z" fill="#2a2a2a" stroke="#000" stroke-width="2.16" stroke-linejoin="round" />
<line x1="505.21" y1="527.33" x2="494.81" y2="533.33" stroke="#fff" stroke-width="0.9" />
<line x1="506.45" y1="525.52" x2="496.05" y2="531.52" stroke="#fff" stroke-width="0.9" />
<line x1="507.06" y1="523.05" x2="496.67" y2="529.05" stroke="#fff" stroke-width="0.9" />
<line x1="506.99" y1="520.11" x2="496.6" y2="526.11" stroke="#fff" stroke-width="0.9" />
<line x1="506.26" y1="516.91" x2="495.87" y2="522.91" stroke="#fff" stroke-width="0.9" />
<line x1="504.91" y1="513.67" x2="494.52" y2="519.67" stroke="#fff" stroke-width="0.9" />
<line x1="503.05" y1="510.64" x2="492.66" y2="516.64" stroke="#fff" stroke-width="0.9" />
<line x1="500.8" y1="508.04" x2="490.41" y2="514.04" stroke="#fff" stroke-width="0.9" />
<line x1="498.33" y1="506.05" x2="487.94" y2="512.05" stroke="#fff" stroke-width="0.9" />
<line x1="495.82" y1="504.81" x2="485.43" y2="510.81" stroke="#fff" stroke-width="0.9" />
<line x1="493.45" y1="504.43" x2="483.06" y2="510.43" stroke="#fff" stroke-width="0.9" />
<ellipse cx="486.5" cy="523" rx="13.23" ry="7.64" transform="rotate(60 486.5 523)" fill="#111" stroke="#000" stroke-width="2.34" />
<path d="M484.63 515.26 L484.04 515.18 L483.47 515.19 L482.94 515.28 L482.45 515.46 L482 515.72 L481.6 516.05 L481.25 516.47 L480.96 516.96 L480.74 517.51 L480.57 518.12 L480.47 518.79 L480.44 519.5 L480.47 520.25 L480.57 521.03 L480.74 521.83 L480.96 522.65 L481.25 523.47 L481.6 524.28 L482 525.08 L482.45 525.86 L482.94 526.61 L483.47 527.31 L484.04 527.97 L484.63 528.58 L485.24 529.12 L485.87 529.6 L486.5 530 L487.14 530.33 L487.76 530.57 L488.38 530.74" fill="none" stroke="#fff" stroke-width="0.99" stroke-linejoin="round" />
<path d="M483 521 l3 -3 l3.5 2.5 l-1 4 l-3.5 1 Z" fill="none" stroke="#fff" stroke-width="1"/>
<path d="M343.5 606 L368.5 591.5" stroke="#000" stroke-width="3.8" stroke-linecap="round"/>
<path d="M350 602.5 l1 1.6 M354 600.2 l1 1.6 M358 597.9 l1 1.6 M362 595.6 l1 1.6" stroke="#fff" stroke-width="0.7"/>
<ellipse cx="339.8" cy="608" rx="5.63" ry="3.25" transform="rotate(60 339.8 608)" fill="#fff" stroke="#000" stroke-width="2.16" />
<line x1="338.5" y1="605.5" x2="341" y2="610.5" stroke="#000" stroke-width="1.08" />
<path d="M292.5 612 L296 608.5 Q299.5 608.5 299.5 611 L298 614 Z" fill="#000"/>
<path d="M310.5 634 L314 633 L315 644.5 L311.5 645.5 Z" fill="#fff" stroke="#000" stroke-width="1.4"/>
<path d="M308.73 649.16 L309.24 648.6 L309.7 647.98 L310.11 647.3 L310.48 646.57 L310.8 645.78 L311.07 644.95 L311.29 644.07 L311.45 643.14 L311.57 642.18 L311.63 641.18 L311.64 640.15 L311.6 639.09 L311.5 638.01 L311.35 636.9 L311.15 635.77 L310.9 634.63 L310.59 633.48 L310.24 632.32 L309.84 631.16 L309.4 630.01 L308.9 628.86 L308.37 627.71 L307.79 626.59 L307.18 625.48 L306.52 624.39 L305.84 623.33 L305.12 622.29 L304.36 621.29 L303.59 620.33 L302.78 619.4 L301.96 618.52 L301.11 617.68 L300.25 616.89 L299.37 616.15 L298.49 615.47 L297.6 614.84 L296.7 614.28 L295.8 613.77 L294.91 613.32 L294.02 612.94" fill="none" stroke="#000" stroke-width="2.52" stroke-linejoin="round" />
<ellipse cx="295.1" cy="632.4" rx="21.55" ry="12.44" transform="rotate(60 295.1 632.4)" fill="#fff" stroke="#000" stroke-width="1.71" />
<line x1="806.97" y1="338" x2="824.29" y2="328" stroke="#000" stroke-width="1.17" stroke-dasharray="8 5 6 5" stroke-dashoffset="0"/>
<line x1="921.29" y1="272" x2="931.68" y2="266" stroke="#000" stroke-width="1.17" stroke-dasharray="6 5" stroke-dashoffset="0"/>
<line x1="1007.03" y1="222.5" x2="1025.21" y2="212" stroke="#000" stroke-width="1.17" stroke-dasharray="6 5 8 5" stroke-dashoffset="0"/>
<line x1="1038.2" y1="204.5" x2="1077.17" y2="182" stroke="#000" stroke-width="1.17" stroke-dasharray="8 5 6 5" stroke-dashoffset="0"/>
<path d="M1022.8 212 Q1022 210 1024 208.5 L1032.5 202 L1037.5 210.5 L1026.5 214 Q1024 214.5 1022.8 212 Z" fill="#111" stroke="#000" stroke-width="1.3"/>
<ellipse cx="1035.2" cy="206" rx="6.12" ry="3.54" transform="rotate(60 1035.2 206)" fill="#fff" stroke="#000" stroke-width="2.34" />
<ellipse cx="1035.2" cy="206" rx="3.18" ry="1.84" transform="rotate(60 1035.2 206)" fill="#111" stroke="#000" stroke-width="1.26" />
<path d="M1026 210 l2.5 -1.5 M1029 207.5 l1.5 2" stroke="#fff" stroke-width="0.8" fill="none"/>
<ellipse cx="1076.2" cy="183.6" rx="20.82" ry="12.02" transform="rotate(60 1076.2 183.6)" fill="#fff" stroke="#000" stroke-width="2.7" />
<ellipse cx="1077.6" cy="184.4" rx="17.64" ry="10.18" transform="rotate(60 1077.6 184.4)" fill="none" stroke="#000" stroke-width="1.17" />
<path d="M1075 172.5 L1072.5 176 L1076 180 L1083 177.5 L1086 184" fill="none" stroke="#000" stroke-width="1.5"/>
<path d="M1084 188.5 L1083 196 L1087 194" fill="none" stroke="#000" stroke-width="1.5"/>
<path d="M1069 190 L1060.5 195 L1062.5 199 L1070 195 Q1073 199 1080 199" fill="#fff" stroke="#000" stroke-width="1.8"/>
<line x1="1066" y1="189.5" x2="1074.6" y2="183" stroke="#000" stroke-width="1.26" />
<path d="M540.8 422.8 L540.8 408.5 Q541 404 545.7 404.3 L570 418.5 Q573.5 421.5 571.5 424 Q569.5 426 566.5 424.5 L556 418.8 Q553 419 553.5 421.5 Q555 425 558.5 427.5 L569.5 433.5 Q572.5 436 570.5 438.5 Q568.5 440 566 438.5 L545 426.5 Q540.8 425 540.8 422.8 Z" fill="#fff" stroke="#000" stroke-width="2.4" stroke-linejoin="round"/>
<path d="M542.5 408.5 L567.5 422.5 M541.5 412.5 L551.5 418 M541.5 416.5 L551 421 M548 426 L566 436" fill="none" stroke="#000" stroke-width="1.6"/>
<path d="M551.5 415.5 L566.5 424" fill="none" stroke="#000" stroke-width="2.6"/>
<path d="M566 421.5 Q568 419.5 570 421.5 Q570.5 423.5 568 424 Z" fill="#fff" stroke="#000" stroke-width="1"/>
<path d="M566.5 435 Q568.5 433.5 570 435.5 Q570 437.5 567.5 437.5 Z" fill="#fff" stroke="#000" stroke-width="1"/>
<path d="M565.1 426.7 L577.7 433.5" fill="none" stroke="#000" stroke-width="1.17" stroke-linejoin="round" />
<line x1="577.7" y1="433.5" x2="612.5" y2="414" stroke="#000" stroke-width="1.17" stroke-dasharray="14 4 5 4" stroke-dashoffset="0"/>
<line x1="655.3" y1="475.5" x2="655.3" y2="503.5" stroke="#000" stroke-width="1.17" stroke-dasharray="7 4 4 4" stroke-dashoffset="0"/>
<path d="M646.56 508 L646.59 507.55 L646.7 507.1 L646.86 506.66 L647.1 506.23 L647.4 505.82 L647.76 505.42 L648.18 505.04 L648.65 504.68 L649.18 504.35 L649.75 504.05 L650.37 503.77 L651.03 503.53 L651.72 503.32 L652.44 503.15 L653.19 503.01 L653.95 502.92 L654.72 502.86 L655.5 502.84 L656.28 502.86 L657.05 502.92 L657.81 503.01 L658.56 503.15 L659.28 503.32 L659.97 503.53 L660.63 503.77 L661.25 504.05 L661.82 504.35 L662.35 504.68 L662.82 505.04 L663.24 505.42 L663.6 505.82 L663.9 506.23 L664.14 506.66 L664.3 507.1 L664.41 507.55 L664.44 508 L664.44 522 L664.41 522.45 L664.3 522.9 L664.14 523.34 L663.9 523.77 L663.6 524.18 L663.24 524.58 L662.82 524.96 L662.35 525.32 L661.82 525.65 L661.25 525.95 L660.63 526.23 L659.97 526.47 L659.28 526.68 L658.56 526.85 L657.81 526.99 L657.05 527.08 L656.28 527.14 L655.5 527.16 L654.72 527.14 L653.95 527.08 L653.19 526.99 L652.44 526.85 L651.72 526.68 L651.03 526.47 L650.37 526.23 L649.75 525.95 L649.18 525.65 L648.65 525.32 L648.18 524.96 L647.76 524.58 L647.4 524.18 L647.1 523.77 L646.86 523.34 L646.7 522.9 L646.59 522.45 L646.56 522 Z" fill="#fff" stroke="#000" stroke-width="1.98" stroke-linejoin="round" />
<path d="M664.44 511 L664.39 511.54 L664.25 512.07 L664 512.6 L663.67 513.1 L663.24 513.58 L662.73 514.03 L662.14 514.45 L661.48 514.84 L660.76 515.18 L659.97 515.47 L659.14 515.72 L658.26 515.91 L657.36 516.05 L656.43 516.13 L655.5 516.16 L654.57 516.13 L653.64 516.05 L652.74 515.91 L651.86 515.72 L651.03 515.47 L650.24 515.18 L649.52 514.84 L648.86 514.45 L648.27 514.03 L647.76 513.58 L647.33 513.1 L647 512.6 L646.75 512.07 L646.61 511.54 L646.56 511" fill="none" stroke="#000" stroke-width="2.52" stroke-linejoin="round" />
<ellipse cx="655.5" cy="508" rx="8.94" ry="5.16" transform="rotate(0 655.5 508)" fill="#fff" stroke="#000" stroke-width="1.98" />
<ellipse cx="655.5" cy="508" rx="5.88" ry="3.39" transform="rotate(0 655.5 508)" fill="#fff" stroke="#000" stroke-width="1.62" />
<ellipse cx="655.5" cy="508" rx="2.94" ry="1.7" transform="rotate(0 655.5 508)" fill="none" stroke="#000" stroke-width="0.99" />
<path d="M650.5 517 l3 1 M650.5 519.5 l2.5 0.8 M650.5 522 l3 1" stroke="#000" stroke-width="1.4"/>
<g id="nut30">
<path d="M538.4 368.1 Q539.5 362 542.4 357.3 Q545 353 548.3 350.4 Q552.5 348.2 557.6 348.7 Q563 349.5 566.9 351.9 Q571.5 355 573.8 358.8 Q576 362.5 575.8 366.1 Q575.8 370.5 573.8 374.5 Q570.5 380 566.4 383.3 Q561 387.2 555.6 387.2 Q550.5 386.5 546.3 383.8 Q542 380.5 539.9 376.9 Q538.2 372.5 538.4 368.1 Z" fill="#fff" stroke="#000" stroke-width="2.4"/>
<path d="M546 354.8 L554.4 359.7 M553.7 371 L548.3 375 L540.4 371.5 M540.4 372.5 L553 379.2 M541.9 376.4 L553.5 384 M548.8 353.2 L564.5 354.5 L569 356.5 M554.4 359.7 L564.5 354.5" fill="none" stroke="#000" stroke-width="1.3"/>
<ellipse cx="564.3" cy="371.3" rx="16.29" ry="9.4" transform="rotate(-60 564.3 371.3)" fill="none" stroke="#000" stroke-width="1.62" />
<ellipse cx="563.5" cy="371.3" rx="12.49" ry="7.21" transform="rotate(-60 563.5 371.3)" fill="#fff" stroke="#000" stroke-width="1.35" />
<path d="M567.45 359.9 L566.6 359.96 L565.72 360.14 L564.82 360.45 L563.9 360.88 L562.97 361.42 L562.05 362.07 L561.15 362.82 L560.27 363.67 L559.43 364.59 L558.64 365.59 L557.89 366.66 L557.21 367.77 L556.6 368.92 L556.06 370.1 L555.6 371.29 L555.23 372.49 L554.95 373.67 L554.77 374.82 L554.68 375.93 L554.68 377 L554.79 378 L554.98 378.93 L555.28 379.77 L555.66 380.52 L556.13 381.17 L556.67 381.71 L557.3 382.14 L557.99 382.45 L558.74 382.64 L559.54 382.7 L562.33 382.09 L561.61 382.03 L560.93 381.86 L560.31 381.58 L559.74 381.19 L559.25 380.7 L558.83 380.12 L558.48 379.44 L558.22 378.68 L558.04 377.84 L557.95 376.94 L557.94 375.98 L558.02 374.97 L558.19 373.93 L558.44 372.87 L558.78 371.8 L559.19 370.72 L559.67 369.66 L560.23 368.62 L560.84 367.61 L561.51 366.65 L562.23 365.75 L562.99 364.92 L563.78 364.15 L564.6 363.48 L565.42 362.89 L566.26 362.4 L567.09 362.02 L567.91 361.74 L568.7 361.57 L569.46 361.51 Z" fill="#000" stroke="none" stroke-width="0" stroke-linejoin="round" />
<path d="M569.45 362.18 L568.77 362.36 L568.07 362.61 L567.37 362.95 L566.66 363.37 L565.96 363.86 L565.26 364.43 L564.59 365.06 L563.93 365.74 L563.31 366.49 L562.72 367.28 L562.17 368.11 L561.66 368.97 L561.2 369.86 L560.8 370.76 L560.45 371.67 L560.16 372.58 L559.94 373.49 L559.77 374.38 L559.68 375.24 L559.65 376.07 L559.69 376.86 L559.8 377.61 L559.97 378.3 L560.21 378.94 L560.51 379.5 L560.86 380 L561.28 380.42 L561.74 380.77 L562.26 381.03 L562.82 381.21" fill="none" stroke="#000" stroke-width="1.17" stroke-linejoin="round" />
<path d="M571.28 362.85 L570.65 363.01 L570 363.25 L569.35 363.56 L568.69 363.95 L568.04 364.41 L567.39 364.93 L566.76 365.52 L566.15 366.16 L565.57 366.85 L565.02 367.59 L564.51 368.36 L564.04 369.16 L563.61 369.98 L563.24 370.83 L562.91 371.67 L562.64 372.52 L562.44 373.36 L562.29 374.19 L562.2 374.99 L562.17 375.77 L562.21 376.5 L562.31 377.2 L562.47 377.84 L562.69 378.43 L562.97 378.96 L563.3 379.42 L563.68 379.82 L564.12 380.14 L564.6 380.38 L565.12 380.55" fill="none" stroke="#000" stroke-width="1.17" stroke-linejoin="round" />
<path d="M573.12 363.51 L572.53 363.66 L571.94 363.88 L571.33 364.17 L570.72 364.53 L570.12 364.96 L569.52 365.44 L568.94 365.98 L568.37 366.58 L567.84 367.21 L567.33 367.89 L566.85 368.61 L566.42 369.35 L566.02 370.11 L565.68 370.89 L565.38 371.68 L565.13 372.46 L564.93 373.24 L564.8 374 L564.72 374.75 L564.69 375.46 L564.73 376.14 L564.82 376.79 L564.97 377.38 L565.17 377.93 L565.43 378.42 L565.73 378.84 L566.09 379.21 L566.49 379.5 L566.94 379.73 L567.42 379.88" fill="none" stroke="#000" stroke-width="1.17" stroke-linejoin="round" />
<path d="M557.62 384.09 L558.4 384.34 L559.23 384.47 L560.11 384.48 L561.03 384.37 L561.98 384.13 L562.95 383.78 L563.94 383.3 L564.92 382.72 L565.9 382.03 L566.87 381.24 L567.81 380.35 L568.72 379.38 L569.59 378.34 L570.41 377.23 L571.17 376.07 L571.87 374.86 L572.5 373.61 L573.05 372.35 L573.52 371.07 L573.9 369.8 L574.19 368.54 L574.39 367.31 L574.5 366.12 L574.51 364.97 L574.43 363.88 L574.25 362.86 L573.98 361.92 L573.62 361.07 L573.17 360.32 L572.64 359.66" fill="none" stroke="#000" stroke-width="0.99" stroke-linejoin="round" />
</g>
<use href="#nut30" transform="translate(1108.7 712.3) scale(0.77) translate(-557 -367.85)"/>
<use href="#adapt" transform="translate(990.5 604)" style="color:#8c8c8c"/>
<clipPath id="hatchclip"><path d="M1038 566 H1063 V586 H1038 Z M1038 615 H1063 V634 H1038 Z"/></clipPath>
<g clip-path="url(#hatchclip)">
<line x1="1038" y1="580" x2="1068" y2="550" stroke="#000" stroke-width="1.5"/>
<line x1="1038" y1="589.5" x2="1068" y2="559.5" stroke="#000" stroke-width="1.5"/>
<line x1="1038" y1="599" x2="1068" y2="569" stroke="#000" stroke-width="1.5"/>
<line x1="1038" y1="608.5" x2="1068" y2="578.5" stroke="#000" stroke-width="1.5"/>
<line x1="1038" y1="618" x2="1068" y2="588" stroke="#000" stroke-width="1.5"/>
<line x1="1038" y1="627.5" x2="1068" y2="597.5" stroke="#000" stroke-width="1.5"/>
<line x1="1038" y1="637" x2="1068" y2="607" stroke="#000" stroke-width="1.5"/>
<line x1="1038" y1="646.5" x2="1068" y2="616.5" stroke="#000" stroke-width="1.5"/>
<line x1="1038" y1="656" x2="1068" y2="626" stroke="#000" stroke-width="1.5"/>
</g>
<line x1="1063.1" y1="569" x2="1063.1" y2="633.5" stroke="#000" stroke-width="1.62" />
<line x1="1063.1" y1="568.6" x2="1101" y2="568.6" stroke="#000" stroke-width="1.17" />
<path d="M1105.8 568.6 L1095.5 565.5 L1095.5 571.7 Z" fill="#000"/>
<line x1="1105.6" y1="563.3" x2="1105.6" y2="584.5" stroke="#000" stroke-width="1.17" />
<line x1="1128.2" y1="563" x2="1128.2" y2="587" stroke="#444" stroke-width="1.44" />
<line x1="1132" y1="568.6" x2="1148.8" y2="568.6" stroke="#000" stroke-width="1.17" />
<path d="M1128.4 568.6 L1138.5 565.5 L1138.5 571.7 Z" fill="#000"/>
<rect x="1040" y="587.6" width="33.5" height="26.4" fill="#fff" stroke="#000" stroke-width="1.6"/>
<rect x="1052.5" y="592" width="8.5" height="18" fill="#fff" stroke="#000" stroke-width="1.2" rx="1"/>
<rect x="1033.5" y="589.7" width="18.3" height="22.6" fill="#fff" stroke="#000" stroke-width="2.6" rx="1.5"/>
<rect x="1074.5" y="586.6" width="19.2" height="28.8" fill="#fff" stroke="#000" stroke-width="2.6" rx="1.5"/>
<line x1="1094" y1="600.6" x2="1106" y2="600.6" stroke="#555" stroke-width="1.08" stroke-dasharray="4 1.5"/>
<rect x="1106.5" y="585" width="19.5" height="32.4" fill="#fff" stroke="#9a9a9a" stroke-width="1.9"/>
<rect x="1126" y="587" width="11" height="28" fill="#fff" stroke="#9a9a9a" stroke-width="1.9" rx="1"/>
<path d="M956.2 727.3 Q961 720 964.7 717 Q967 714.6 969.4 714.4 Q972 714.8 973.5 716.3 Q975.5 718.8 980.8 718.5 L1026.3 705.6 L1037.3 706 Q1040 703 1044.6 703.4 Q1055 704 1054.9 713.3 Q1054 724 1044.6 724.3 Q1038 724 1035.1 719.9 L1026.3 718.1 L975.7 732 Q973 734 971.3 737.5 Q967.5 742 963.2 741.6 Q958.5 741.5 956.6 739.7 Q961 736.5 964.7 734.6 Q967.5 731.5 967.2 728 Q967 724.5 965.4 723.6 Q962 724.5 956.6 727.6 Z" fill="#fff" stroke="#9a9a9a" stroke-width="1.8" stroke-linejoin="round"/>
<path d="M1038.7 707.8 L1049.7 707.1 L1052.3 714.8 L1046.8 721 L1036.9 719.6 L1035.4 713.3 Z" fill="#fff" stroke="#9a9a9a" stroke-width="1.7"/>
<path d="M1038 705.5 Q1053 703 1053.5 714 M1028.5 708.6 L1026.6 717" fill="none" stroke="#9a9a9a" stroke-width="1"/>
<g fill="#fff" stroke="#9a9a9a" stroke-width="1.9" stroke-linejoin="round">
<path d="M1182 588 L1182 660 Q1182 673 1198 675.5 Q1214.8 674 1214.8 660 L1214.8 586"/>
<path d="M1181.5 659 Q1182 668 1198 670 Q1213 668 1214.5 659.5 M1181.5 663.5 L1181.5 671 Q1186 676 1198 676 Q1211 676 1214.5 670 L1214.5 663"/>
<path d="M1188.5 670.5 L1188.5 675 M1198 671.5 L1198 676 M1207 670 L1207 675" fill="none"/>
<path d="M1180.7 573.1 L1190.6 567.2 L1210.2 569.2 L1215.5 578.3 L1211.5 588.2 L1200.4 593.4 L1184.7 589.5 Z"/>
<ellipse cx="1197.5" cy="583" rx="12" ry="6.5"/>
<path d="M1184 576 L1192 571.5 L1208 572.5 L1212.5 579 M1192 571.5 L1193 577 M1208 572.5 L1206 578 M1186 588 L1186 582 M1200 592 L1200 588 M1211 586 L1208 584" fill="none" stroke-width="1.3"/>
<ellipse cx="1187.5" cy="601" rx="3" ry="4.8" transform="rotate(25 1187.5 601)"/>
<ellipse cx="1187.5" cy="655" rx="3" ry="4.8" transform="rotate(25 1187.5 655)"/>
</g>
<path d="M1204.5 631 Q1209 627 1212 624.5" fill="none" stroke="#9a9a9a" stroke-width="3"/>
<path d="M1208 598 l2 -2 M1208 659 l2 -2" fill="none" stroke="#9a9a9a" stroke-width="1.3"/>
</svg></body></html>
